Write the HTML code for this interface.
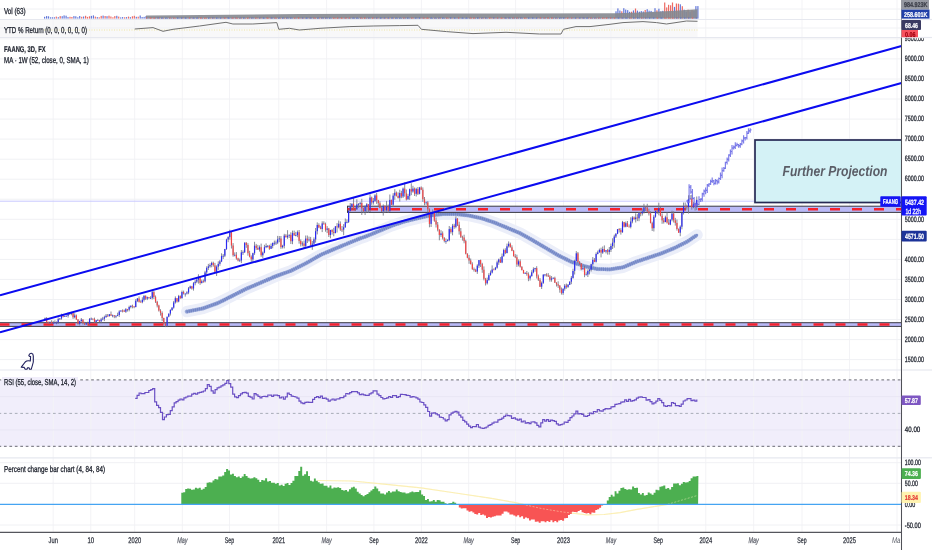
<!DOCTYPE html><html><head><meta charset="utf-8"><style>html,body{margin:0;padding:0;background:#fff;overflow:hidden}svg{display:block;will-change:transform;}text{text-rendering:geometricPrecision}</style></head><body><svg width="932" height="550" viewBox="0 0 932 550" font-family="Liberation Sans, sans-serif">
<rect width="932" height="550" fill="#fff"/>
<defs><clipPath id="cp"><rect x="0" y="0" width="901.5" height="532"/></clipPath><clipPath id="axm"><rect x="900" y="38.2" width="40" height="340"/></clipPath><clipPath id="main"><rect x="0" y="38" width="901.5" height="332"/></clipPath></defs>
<rect x="0" y="20" width="697.5" height="17" fill="#f8f8f9"/>
<rect x="0" y="380" width="901.5" height="66.5" fill="#f1eefb"/>
<line x1="53.2" y1="0" x2="53.2" y2="532" stroke="#f3f3f6" stroke-width="1"/>
<line x1="90.8" y1="0" x2="90.8" y2="532" stroke="#f3f3f6" stroke-width="1"/>
<line x1="134.7" y1="0" x2="134.7" y2="532" stroke="#f3f3f6" stroke-width="1"/>
<line x1="182.3" y1="0" x2="182.3" y2="532" stroke="#f3f3f6" stroke-width="1"/>
<line x1="229.5" y1="0" x2="229.5" y2="532" stroke="#f3f3f6" stroke-width="1"/>
<line x1="278.8" y1="0" x2="278.8" y2="532" stroke="#f3f3f6" stroke-width="1"/>
<line x1="326.6" y1="0" x2="326.6" y2="532" stroke="#f3f3f6" stroke-width="1"/>
<line x1="373.9" y1="0" x2="373.9" y2="532" stroke="#f3f3f6" stroke-width="1"/>
<line x1="421.4" y1="0" x2="421.4" y2="532" stroke="#f3f3f6" stroke-width="1"/>
<line x1="468.7" y1="0" x2="468.7" y2="532" stroke="#f3f3f6" stroke-width="1"/>
<line x1="515.6" y1="0" x2="515.6" y2="532" stroke="#f3f3f6" stroke-width="1"/>
<line x1="563.5" y1="0" x2="563.5" y2="532" stroke="#f3f3f6" stroke-width="1"/>
<line x1="611" y1="0" x2="611" y2="532" stroke="#f3f3f6" stroke-width="1"/>
<line x1="658.2" y1="0" x2="658.2" y2="532" stroke="#f3f3f6" stroke-width="1"/>
<line x1="705.8" y1="0" x2="705.8" y2="532" stroke="#f3f3f6" stroke-width="1"/>
<line x1="753.7" y1="0" x2="753.7" y2="532" stroke="#f3f3f6" stroke-width="1"/>
<line x1="802" y1="0" x2="802" y2="532" stroke="#f3f3f6" stroke-width="1"/>
<line x1="849.5" y1="0" x2="849.5" y2="532" stroke="#f3f3f6" stroke-width="1"/>
<line x1="897" y1="0" x2="897" y2="532" stroke="#f3f3f6" stroke-width="1"/>
<line x1="0" y1="359.6" x2="901.5" y2="359.6" stroke="#f0f1f4" stroke-width="1"/>
<line x1="0" y1="339.6" x2="901.5" y2="339.6" stroke="#f0f1f4" stroke-width="1"/>
<line x1="0" y1="319.6" x2="901.5" y2="319.6" stroke="#f0f1f4" stroke-width="1"/>
<line x1="0" y1="299.5" x2="901.5" y2="299.5" stroke="#f0f1f4" stroke-width="1"/>
<line x1="0" y1="279.4" x2="901.5" y2="279.4" stroke="#f0f1f4" stroke-width="1"/>
<line x1="0" y1="259.4" x2="901.5" y2="259.4" stroke="#f0f1f4" stroke-width="1"/>
<line x1="0" y1="239.4" x2="901.5" y2="239.4" stroke="#f0f1f4" stroke-width="1"/>
<line x1="0" y1="219.3" x2="901.5" y2="219.3" stroke="#f0f1f4" stroke-width="1"/>
<line x1="0" y1="199.2" x2="901.5" y2="199.2" stroke="#f0f1f4" stroke-width="1"/>
<line x1="0" y1="179.2" x2="901.5" y2="179.2" stroke="#f0f1f4" stroke-width="1"/>
<line x1="0" y1="159.2" x2="901.5" y2="159.2" stroke="#f0f1f4" stroke-width="1"/>
<line x1="0" y1="139.1" x2="901.5" y2="139.1" stroke="#f0f1f4" stroke-width="1"/>
<line x1="0" y1="119.1" x2="901.5" y2="119.1" stroke="#f0f1f4" stroke-width="1"/>
<line x1="0" y1="99.0" x2="901.5" y2="99.0" stroke="#f0f1f4" stroke-width="1"/>
<line x1="0" y1="79.0" x2="901.5" y2="79.0" stroke="#f0f1f4" stroke-width="1"/>
<line x1="0" y1="58.9" x2="901.5" y2="58.9" stroke="#f0f1f4" stroke-width="1"/>
<line x1="0" y1="38.9" x2="901.5" y2="38.9" stroke="#f0f1f4" stroke-width="1"/>
<line x1="0" y1="9" x2="901.5" y2="9" stroke="#f0f1f4"/>
<line x1="0" y1="28" x2="901.5" y2="28" stroke="#f0f1f4"/>
<line x1="0" y1="396.6" x2="901.5" y2="396.6" stroke="#e9e6f4"/>
<line x1="0" y1="429.9" x2="901.5" y2="429.9" stroke="#e9e6f4"/>
<line x1="0" y1="462.7" x2="901.5" y2="462.7" stroke="#f0f1f4"/>
<line x1="0" y1="483.3" x2="901.5" y2="483.3" stroke="#f0f1f4"/>
<line x1="0" y1="525" x2="901.5" y2="525" stroke="#f0f1f4"/>
<line x1="0" y1="19.5" x2="932" y2="19.5" stroke="#e6e8ef" stroke-width="1.2"/>
<line x1="0" y1="37.5" x2="932" y2="37.5" stroke="#e6e8ef" stroke-width="1.2"/>
<line x1="0" y1="370" x2="932" y2="370" stroke="#e6e8ef" stroke-width="1.2"/>
<line x1="0" y1="457.8" x2="932" y2="457.8" stroke="#e6e8ef" stroke-width="1.2"/>
<rect x="44.0" y="16.8" width="1.2" height="1.8" fill="#3a55d0" opacity="0.8"/><rect x="46.0" y="16.1" width="1.2" height="2.5" fill="#3a55d0" opacity="0.8"/><rect x="47.9" y="16.3" width="1.2" height="2.3" fill="#3a55d0" opacity="0.8"/><rect x="49.9" y="17.3" width="1.2" height="1.3" fill="#3a55d0" opacity="0.8"/><rect x="51.8" y="17.3" width="1.2" height="1.3" fill="#3a55d0" opacity="0.8"/><rect x="53.8" y="17.3" width="1.2" height="1.3" fill="#3a55d0" opacity="0.8"/><rect x="55.7" y="16.6" width="1.2" height="2.0" fill="#e8453c" opacity="0.8"/><rect x="57.7" y="17.2" width="1.2" height="1.4" fill="#3a55d0" opacity="0.8"/><rect x="59.6" y="16.1" width="1.2" height="2.5" fill="#e8453c" opacity="0.8"/><rect x="61.6" y="16.2" width="1.2" height="2.4" fill="#3a55d0" opacity="0.8"/><rect x="63.5" y="15.4" width="1.2" height="3.2" fill="#3a55d0" opacity="0.8"/><rect x="65.5" y="15.7" width="1.2" height="2.9" fill="#3a55d0" opacity="0.8"/><rect x="67.4" y="17.1" width="1.2" height="1.5" fill="#3a55d0" opacity="0.8"/><rect x="69.4" y="16.8" width="1.2" height="1.8" fill="#e8453c" opacity="0.8"/><rect x="71.3" y="17.0" width="1.2" height="1.6" fill="#e8453c" opacity="0.8"/><rect x="73.3" y="16.1" width="1.2" height="2.5" fill="#3a55d0" opacity="0.8"/><rect x="75.2" y="16.3" width="1.2" height="2.3" fill="#3a55d0" opacity="0.8"/><rect x="77.2" y="17.3" width="1.2" height="1.3" fill="#3a55d0" opacity="0.8"/><rect x="79.1" y="16.0" width="1.2" height="2.6" fill="#3a55d0" opacity="0.8"/><rect x="81.1" y="16.8" width="1.2" height="1.8" fill="#e8453c" opacity="0.8"/><rect x="83.0" y="16.5" width="1.2" height="2.1" fill="#3a55d0" opacity="0.8"/><rect x="85.0" y="15.8" width="1.2" height="2.8" fill="#e8453c" opacity="0.8"/><rect x="86.9" y="16.9" width="1.2" height="1.7" fill="#e8453c" opacity="0.8"/><rect x="88.9" y="16.3" width="1.2" height="2.3" fill="#e8453c" opacity="0.8"/><rect x="90.8" y="15.9" width="1.2" height="2.7" fill="#3a55d0" opacity="0.8"/><rect x="92.8" y="15.4" width="1.2" height="3.2" fill="#3a55d0" opacity="0.8"/><rect x="94.7" y="16.6" width="1.2" height="2.0" fill="#e8453c" opacity="0.8"/><rect x="96.7" y="17.1" width="1.2" height="1.5" fill="#3a55d0" opacity="0.8"/><rect x="98.6" y="17.3" width="1.2" height="1.3" fill="#e8453c" opacity="0.8"/><rect x="100.6" y="15.9" width="1.2" height="2.7" fill="#e8453c" opacity="0.8"/><rect x="102.5" y="15.6" width="1.2" height="3.0" fill="#3a55d0" opacity="0.8"/><rect x="104.5" y="16.0" width="1.2" height="2.6" fill="#e8453c" opacity="0.8"/><rect x="106.4" y="16.2" width="1.2" height="2.4" fill="#3a55d0" opacity="0.8"/><rect x="108.4" y="15.7" width="1.2" height="2.9" fill="#e8453c" opacity="0.8"/><rect x="110.3" y="16.5" width="1.2" height="2.1" fill="#e8453c" opacity="0.8"/><rect x="112.3" y="17.3" width="1.2" height="1.3" fill="#e8453c" opacity="0.8"/><rect x="114.2" y="16.1" width="1.2" height="2.5" fill="#e8453c" opacity="0.8"/><rect x="116.2" y="15.8" width="1.2" height="2.8" fill="#3a55d0" opacity="0.8"/><rect x="118.1" y="16.6" width="1.2" height="2.0" fill="#e8453c" opacity="0.8"/><rect x="120.1" y="17.4" width="1.2" height="1.2" fill="#3a55d0" opacity="0.8"/><rect x="122.0" y="17.1" width="1.2" height="1.5" fill="#3a55d0" opacity="0.8"/><rect x="124.0" y="17.3" width="1.2" height="1.3" fill="#e8453c" opacity="0.8"/><rect x="125.9" y="17.1" width="1.2" height="1.5" fill="#3a55d0" opacity="0.8"/><rect x="127.9" y="16.6" width="1.2" height="2.0" fill="#e8453c" opacity="0.8"/><rect x="129.8" y="17.2" width="1.2" height="1.4" fill="#3a55d0" opacity="0.8"/><rect x="131.8" y="16.3" width="1.2" height="2.3" fill="#e8453c" opacity="0.8"/><rect x="133.7" y="15.8" width="1.2" height="2.8" fill="#e8453c" opacity="0.8"/><rect x="135.7" y="16.8" width="1.2" height="1.8" fill="#3a55d0" opacity="0.8"/><rect x="137.6" y="16.7" width="1.2" height="1.9" fill="#e8453c" opacity="0.8"/><rect x="139.6" y="15.5" width="1.2" height="3.1" fill="#3a55d0" opacity="0.8"/><rect x="141.5" y="17.0" width="1.2" height="1.6" fill="#3a55d0" opacity="0.8"/><rect x="143.5" y="16.9" width="1.2" height="1.7" fill="#3a55d0" opacity="0.8"/><rect x="145.4" y="16.2" width="1.2" height="2.4" fill="#3a55d0" opacity="0.8"/><rect x="147.4" y="17.8" width="1.2" height="0.8" fill="#3a55d0" opacity="0.8"/><rect x="149.3" y="17.5" width="1.2" height="1.1" fill="#e8453c" opacity="0.8"/><rect x="151.2" y="17.0" width="1.2" height="1.6" fill="#e8453c" opacity="0.8"/><rect x="153.2" y="17.4" width="1.2" height="1.2" fill="#e8453c" opacity="0.8"/><rect x="155.1" y="17.3" width="1.2" height="1.3" fill="#3a55d0" opacity="0.8"/><rect x="157.1" y="17.1" width="1.2" height="1.5" fill="#e8453c" opacity="0.8"/><rect x="159.0" y="17.1" width="1.2" height="1.5" fill="#e8453c" opacity="0.8"/><rect x="161.0" y="17.5" width="1.2" height="1.1" fill="#3a55d0" opacity="0.8"/><rect x="162.9" y="17.7" width="1.2" height="0.9" fill="#e8453c" opacity="0.8"/><rect x="164.9" y="17.8" width="1.2" height="0.8" fill="#3a55d0" opacity="0.8"/><rect x="166.8" y="17.6" width="1.2" height="1.0" fill="#3a55d0" opacity="0.8"/><rect x="168.8" y="17.5" width="1.2" height="1.1" fill="#3a55d0" opacity="0.8"/><rect x="170.7" y="17.8" width="1.2" height="0.8" fill="#3a55d0" opacity="0.8"/><rect x="172.7" y="17.7" width="1.2" height="0.9" fill="#3a55d0" opacity="0.8"/><rect x="174.6" y="17.8" width="1.2" height="0.8" fill="#e8453c" opacity="0.8"/><rect x="176.6" y="17.3" width="1.2" height="1.3" fill="#3a55d0" opacity="0.8"/><rect x="178.5" y="17.6" width="1.2" height="1.0" fill="#3a55d0" opacity="0.8"/><rect x="180.5" y="17.5" width="1.2" height="1.1" fill="#3a55d0" opacity="0.8"/><rect x="182.4" y="17.1" width="1.2" height="1.5" fill="#e8453c" opacity="0.8"/><rect x="184.4" y="17.4" width="1.2" height="1.2" fill="#3a55d0" opacity="0.8"/><rect x="186.3" y="17.7" width="1.2" height="0.9" fill="#3a55d0" opacity="0.8"/><rect x="188.3" y="17.5" width="1.2" height="1.1" fill="#3a55d0" opacity="0.8"/><rect x="190.2" y="17.1" width="1.2" height="1.5" fill="#3a55d0" opacity="0.8"/><rect x="192.2" y="17.8" width="1.2" height="0.8" fill="#e8453c" opacity="0.8"/><rect x="194.1" y="17.4" width="1.2" height="1.2" fill="#3a55d0" opacity="0.8"/><rect x="196.1" y="17.4" width="1.2" height="1.2" fill="#3a55d0" opacity="0.8"/><rect x="198.0" y="17.4" width="1.2" height="1.2" fill="#e8453c" opacity="0.8"/><rect x="200.0" y="17.1" width="1.2" height="1.5" fill="#e8453c" opacity="0.8"/><rect x="201.9" y="17.6" width="1.2" height="1.0" fill="#3a55d0" opacity="0.8"/><rect x="203.9" y="17.7" width="1.2" height="0.9" fill="#e8453c" opacity="0.8"/><rect x="205.8" y="17.4" width="1.2" height="1.2" fill="#e8453c" opacity="0.8"/><rect x="207.8" y="17.5" width="1.2" height="1.1" fill="#3a55d0" opacity="0.8"/><rect x="209.7" y="17.2" width="1.2" height="1.4" fill="#e8453c" opacity="0.8"/><rect x="211.7" y="17.1" width="1.2" height="1.5" fill="#e8453c" opacity="0.8"/><rect x="213.6" y="17.1" width="1.2" height="1.5" fill="#e8453c" opacity="0.8"/><rect x="215.6" y="17.6" width="1.2" height="1.0" fill="#3a55d0" opacity="0.8"/><rect x="217.5" y="17.5" width="1.2" height="1.1" fill="#3a55d0" opacity="0.8"/><rect x="219.5" y="17.8" width="1.2" height="0.8" fill="#3a55d0" opacity="0.8"/><rect x="221.4" y="17.6" width="1.2" height="1.0" fill="#e8453c" opacity="0.8"/><rect x="223.4" y="17.0" width="1.2" height="1.6" fill="#3a55d0" opacity="0.8"/><rect x="225.3" y="17.1" width="1.2" height="1.5" fill="#e8453c" opacity="0.8"/><rect x="227.3" y="17.0" width="1.2" height="1.6" fill="#3a55d0" opacity="0.8"/><rect x="229.2" y="17.6" width="1.2" height="1.0" fill="#3a55d0" opacity="0.8"/><rect x="231.2" y="17.6" width="1.2" height="1.0" fill="#3a55d0" opacity="0.8"/><rect x="233.1" y="17.3" width="1.2" height="1.3" fill="#e8453c" opacity="0.8"/><rect x="235.1" y="17.1" width="1.2" height="1.5" fill="#3a55d0" opacity="0.8"/><rect x="237.0" y="17.3" width="1.2" height="1.3" fill="#e8453c" opacity="0.8"/><rect x="239.0" y="17.7" width="1.2" height="0.9" fill="#e8453c" opacity="0.8"/><rect x="240.9" y="17.1" width="1.2" height="1.5" fill="#e8453c" opacity="0.8"/><rect x="242.9" y="17.2" width="1.2" height="1.4" fill="#3a55d0" opacity="0.8"/><rect x="244.8" y="17.7" width="1.2" height="0.9" fill="#e8453c" opacity="0.8"/><rect x="246.8" y="17.5" width="1.2" height="1.1" fill="#e8453c" opacity="0.8"/><rect x="248.7" y="17.0" width="1.2" height="1.6" fill="#3a55d0" opacity="0.8"/><rect x="250.7" y="17.5" width="1.2" height="1.1" fill="#e8453c" opacity="0.8"/><rect x="252.6" y="17.2" width="1.2" height="1.4" fill="#3a55d0" opacity="0.8"/><rect x="254.6" y="17.7" width="1.2" height="0.9" fill="#3a55d0" opacity="0.8"/><rect x="256.5" y="17.1" width="1.2" height="1.5" fill="#e8453c" opacity="0.8"/><rect x="258.5" y="17.7" width="1.2" height="0.9" fill="#e8453c" opacity="0.8"/><rect x="260.4" y="17.0" width="1.2" height="1.6" fill="#e8453c" opacity="0.8"/><rect x="262.4" y="17.5" width="1.2" height="1.1" fill="#3a55d0" opacity="0.8"/><rect x="264.3" y="17.7" width="1.2" height="0.9" fill="#3a55d0" opacity="0.8"/><rect x="266.3" y="17.0" width="1.2" height="1.6" fill="#e8453c" opacity="0.8"/><rect x="268.2" y="17.4" width="1.2" height="1.2" fill="#e8453c" opacity="0.8"/><rect x="270.2" y="17.5" width="1.2" height="1.1" fill="#e8453c" opacity="0.8"/><rect x="272.1" y="17.1" width="1.2" height="1.5" fill="#3a55d0" opacity="0.8"/><rect x="274.1" y="17.6" width="1.2" height="1.0" fill="#3a55d0" opacity="0.8"/><rect x="276.0" y="17.6" width="1.2" height="1.0" fill="#e8453c" opacity="0.8"/><rect x="278.0" y="17.6" width="1.2" height="1.0" fill="#3a55d0" opacity="0.8"/><rect x="279.9" y="17.7" width="1.2" height="0.9" fill="#e8453c" opacity="0.8"/><rect x="281.9" y="17.5" width="1.2" height="1.1" fill="#3a55d0" opacity="0.8"/><rect x="283.8" y="17.3" width="1.2" height="1.3" fill="#e8453c" opacity="0.8"/><rect x="285.8" y="17.5" width="1.2" height="1.1" fill="#e8453c" opacity="0.8"/><rect x="287.7" y="17.4" width="1.2" height="1.2" fill="#3a55d0" opacity="0.8"/><rect x="289.7" y="17.4" width="1.2" height="1.2" fill="#3a55d0" opacity="0.8"/><rect x="291.6" y="17.4" width="1.2" height="1.2" fill="#3a55d0" opacity="0.8"/><rect x="293.6" y="17.8" width="1.2" height="0.8" fill="#e8453c" opacity="0.8"/><rect x="295.5" y="17.7" width="1.2" height="0.9" fill="#3a55d0" opacity="0.8"/><rect x="297.5" y="17.2" width="1.2" height="1.4" fill="#e8453c" opacity="0.8"/><rect x="299.4" y="17.5" width="1.2" height="1.1" fill="#3a55d0" opacity="0.8"/><rect x="301.4" y="17.4" width="1.2" height="1.2" fill="#e8453c" opacity="0.8"/><rect x="303.3" y="17.7" width="1.2" height="0.9" fill="#e8453c" opacity="0.8"/><rect x="305.3" y="17.6" width="1.2" height="1.0" fill="#3a55d0" opacity="0.8"/><rect x="307.2" y="17.2" width="1.2" height="1.4" fill="#3a55d0" opacity="0.8"/><rect x="309.2" y="17.4" width="1.2" height="1.2" fill="#e8453c" opacity="0.8"/><rect x="311.1" y="17.1" width="1.2" height="1.5" fill="#3a55d0" opacity="0.8"/><rect x="313.1" y="17.3" width="1.2" height="1.3" fill="#3a55d0" opacity="0.8"/><rect x="315.0" y="17.4" width="1.2" height="1.2" fill="#e8453c" opacity="0.8"/><rect x="317.0" y="17.4" width="1.2" height="1.2" fill="#3a55d0" opacity="0.8"/><rect x="318.9" y="17.4" width="1.2" height="1.2" fill="#e8453c" opacity="0.8"/><rect x="320.9" y="17.2" width="1.2" height="1.4" fill="#e8453c" opacity="0.8"/><rect x="322.8" y="17.0" width="1.2" height="1.6" fill="#3a55d0" opacity="0.8"/><rect x="324.8" y="17.4" width="1.2" height="1.2" fill="#e8453c" opacity="0.8"/><rect x="326.7" y="17.1" width="1.2" height="1.5" fill="#3a55d0" opacity="0.8"/><rect x="328.7" y="17.7" width="1.2" height="0.9" fill="#3a55d0" opacity="0.8"/><rect x="330.6" y="17.7" width="1.2" height="0.9" fill="#3a55d0" opacity="0.8"/><rect x="332.6" y="17.7" width="1.2" height="0.9" fill="#e8453c" opacity="0.8"/><rect x="334.5" y="17.2" width="1.2" height="1.4" fill="#e8453c" opacity="0.8"/><rect x="336.5" y="17.7" width="1.2" height="0.9" fill="#e8453c" opacity="0.8"/><rect x="338.4" y="17.3" width="1.2" height="1.3" fill="#3a55d0" opacity="0.8"/><rect x="340.4" y="17.1" width="1.2" height="1.5" fill="#e8453c" opacity="0.8"/><rect x="342.3" y="17.6" width="1.2" height="1.0" fill="#e8453c" opacity="0.8"/><rect x="344.3" y="17.5" width="1.2" height="1.1" fill="#3a55d0" opacity="0.8"/><rect x="346.2" y="17.0" width="1.2" height="1.6" fill="#e8453c" opacity="0.8"/><rect x="348.2" y="17.7" width="1.2" height="0.9" fill="#3a55d0" opacity="0.8"/><rect x="350.1" y="17.4" width="1.2" height="1.2" fill="#3a55d0" opacity="0.8"/><rect x="352.1" y="17.6" width="1.2" height="1.0" fill="#3a55d0" opacity="0.8"/><rect x="354.0" y="17.2" width="1.2" height="1.4" fill="#3a55d0" opacity="0.8"/><rect x="356.0" y="17.4" width="1.2" height="1.2" fill="#3a55d0" opacity="0.8"/><rect x="357.9" y="17.8" width="1.2" height="0.8" fill="#3a55d0" opacity="0.8"/><rect x="359.9" y="17.3" width="1.2" height="1.3" fill="#3a55d0" opacity="0.8"/><rect x="361.8" y="17.7" width="1.2" height="0.9" fill="#e8453c" opacity="0.8"/><rect x="363.8" y="17.2" width="1.2" height="1.4" fill="#e8453c" opacity="0.8"/><rect x="365.7" y="17.7" width="1.2" height="0.9" fill="#3a55d0" opacity="0.8"/><rect x="367.7" y="17.8" width="1.2" height="0.8" fill="#e8453c" opacity="0.8"/><rect x="369.6" y="17.6" width="1.2" height="1.0" fill="#3a55d0" opacity="0.8"/><rect x="371.6" y="17.5" width="1.2" height="1.1" fill="#e8453c" opacity="0.8"/><rect x="373.5" y="17.1" width="1.2" height="1.5" fill="#3a55d0" opacity="0.8"/><rect x="375.5" y="17.7" width="1.2" height="0.9" fill="#e8453c" opacity="0.8"/><rect x="377.4" y="17.3" width="1.2" height="1.3" fill="#e8453c" opacity="0.8"/><rect x="379.4" y="17.7" width="1.2" height="0.9" fill="#3a55d0" opacity="0.8"/><rect x="381.3" y="17.2" width="1.2" height="1.4" fill="#3a55d0" opacity="0.8"/><rect x="383.3" y="17.7" width="1.2" height="0.9" fill="#e8453c" opacity="0.8"/><rect x="385.2" y="17.3" width="1.2" height="1.3" fill="#e8453c" opacity="0.8"/><rect x="387.2" y="17.7" width="1.2" height="0.9" fill="#e8453c" opacity="0.8"/><rect x="389.1" y="17.7" width="1.2" height="0.9" fill="#e8453c" opacity="0.8"/><rect x="391.1" y="17.4" width="1.2" height="1.2" fill="#3a55d0" opacity="0.8"/><rect x="393.0" y="17.4" width="1.2" height="1.2" fill="#e8453c" opacity="0.8"/><rect x="395.0" y="17.6" width="1.2" height="1.0" fill="#3a55d0" opacity="0.8"/><rect x="396.9" y="17.4" width="1.2" height="1.2" fill="#3a55d0" opacity="0.8"/><rect x="398.9" y="17.7" width="1.2" height="0.9" fill="#3a55d0" opacity="0.8"/><rect x="400.8" y="17.8" width="1.2" height="0.8" fill="#3a55d0" opacity="0.8"/><rect x="402.8" y="17.6" width="1.2" height="1.0" fill="#3a55d0" opacity="0.8"/><rect x="404.7" y="17.2" width="1.2" height="1.4" fill="#3a55d0" opacity="0.8"/><rect x="406.7" y="17.4" width="1.2" height="1.2" fill="#3a55d0" opacity="0.8"/><rect x="408.6" y="17.5" width="1.2" height="1.1" fill="#3a55d0" opacity="0.8"/><rect x="410.6" y="17.6" width="1.2" height="1.0" fill="#3a55d0" opacity="0.8"/><rect x="412.5" y="17.2" width="1.2" height="1.4" fill="#e8453c" opacity="0.8"/><rect x="414.5" y="17.6" width="1.2" height="1.0" fill="#3a55d0" opacity="0.8"/><rect x="416.4" y="17.1" width="1.2" height="1.5" fill="#3a55d0" opacity="0.8"/><rect x="418.4" y="17.1" width="1.2" height="1.5" fill="#3a55d0" opacity="0.8"/><rect x="420.3" y="17.4" width="1.2" height="1.2" fill="#e8453c" opacity="0.8"/><rect x="422.3" y="17.5" width="1.2" height="1.1" fill="#3a55d0" opacity="0.8"/><rect x="424.2" y="17.2" width="1.2" height="1.4" fill="#e8453c" opacity="0.8"/><rect x="426.2" y="17.5" width="1.2" height="1.1" fill="#e8453c" opacity="0.8"/><rect x="428.1" y="17.2" width="1.2" height="1.4" fill="#e8453c" opacity="0.8"/><rect x="430.1" y="17.5" width="1.2" height="1.1" fill="#3a55d0" opacity="0.8"/><rect x="432.0" y="17.8" width="1.2" height="0.8" fill="#3a55d0" opacity="0.8"/><rect x="434.0" y="17.7" width="1.2" height="0.9" fill="#e8453c" opacity="0.8"/><rect x="435.9" y="17.6" width="1.2" height="1.0" fill="#3a55d0" opacity="0.8"/><rect x="437.9" y="17.7" width="1.2" height="0.9" fill="#e8453c" opacity="0.8"/><rect x="439.8" y="17.1" width="1.2" height="1.5" fill="#e8453c" opacity="0.8"/><rect x="441.8" y="17.6" width="1.2" height="1.0" fill="#3a55d0" opacity="0.8"/><rect x="443.7" y="17.6" width="1.2" height="1.0" fill="#3a55d0" opacity="0.8"/><rect x="445.7" y="17.7" width="1.2" height="0.9" fill="#3a55d0" opacity="0.8"/><rect x="447.6" y="17.6" width="1.2" height="1.0" fill="#e8453c" opacity="0.8"/><rect x="449.6" y="17.0" width="1.2" height="1.6" fill="#3a55d0" opacity="0.8"/><rect x="451.5" y="17.6" width="1.2" height="1.0" fill="#e8453c" opacity="0.8"/><rect x="453.5" y="17.6" width="1.2" height="1.0" fill="#3a55d0" opacity="0.8"/><rect x="455.4" y="17.8" width="1.2" height="0.8" fill="#3a55d0" opacity="0.8"/><rect x="457.4" y="17.4" width="1.2" height="1.2" fill="#3a55d0" opacity="0.8"/><rect x="459.3" y="17.6" width="1.2" height="1.0" fill="#3a55d0" opacity="0.8"/><rect x="461.3" y="17.8" width="1.2" height="0.8" fill="#3a55d0" opacity="0.8"/><rect x="463.2" y="17.7" width="1.2" height="0.9" fill="#3a55d0" opacity="0.8"/><rect x="465.2" y="17.8" width="1.2" height="0.8" fill="#3a55d0" opacity="0.8"/><rect x="467.1" y="17.6" width="1.2" height="1.0" fill="#3a55d0" opacity="0.8"/><rect x="469.1" y="17.3" width="1.2" height="1.3" fill="#3a55d0" opacity="0.8"/><rect x="471.0" y="17.2" width="1.2" height="1.4" fill="#e8453c" opacity="0.8"/><rect x="473.0" y="17.2" width="1.2" height="1.4" fill="#e8453c" opacity="0.8"/><rect x="474.9" y="17.5" width="1.2" height="1.1" fill="#3a55d0" opacity="0.8"/><rect x="476.9" y="17.0" width="1.2" height="1.6" fill="#3a55d0" opacity="0.8"/><rect x="478.8" y="17.2" width="1.2" height="1.4" fill="#e8453c" opacity="0.8"/><rect x="480.8" y="17.8" width="1.2" height="0.8" fill="#e8453c" opacity="0.8"/><rect x="482.7" y="17.1" width="1.2" height="1.5" fill="#e8453c" opacity="0.8"/><rect x="484.7" y="17.2" width="1.2" height="1.4" fill="#e8453c" opacity="0.8"/><rect x="486.6" y="17.7" width="1.2" height="0.9" fill="#3a55d0" opacity="0.8"/><rect x="488.6" y="17.4" width="1.2" height="1.2" fill="#e8453c" opacity="0.8"/><rect x="490.5" y="17.2" width="1.2" height="1.4" fill="#e8453c" opacity="0.8"/><rect x="492.5" y="17.3" width="1.2" height="1.3" fill="#e8453c" opacity="0.8"/><rect x="494.4" y="17.3" width="1.2" height="1.3" fill="#e8453c" opacity="0.8"/><rect x="496.4" y="17.6" width="1.2" height="1.0" fill="#3a55d0" opacity="0.8"/><rect x="498.3" y="17.7" width="1.2" height="0.9" fill="#3a55d0" opacity="0.8"/><rect x="500.3" y="17.7" width="1.2" height="0.9" fill="#e8453c" opacity="0.8"/><rect x="502.2" y="17.4" width="1.2" height="1.2" fill="#e8453c" opacity="0.8"/><rect x="504.2" y="17.3" width="1.2" height="1.3" fill="#e8453c" opacity="0.8"/><rect x="506.1" y="17.4" width="1.2" height="1.2" fill="#3a55d0" opacity="0.8"/><rect x="508.1" y="17.2" width="1.2" height="1.4" fill="#e8453c" opacity="0.8"/><rect x="510.0" y="17.4" width="1.2" height="1.2" fill="#3a55d0" opacity="0.8"/><rect x="512.0" y="17.3" width="1.2" height="1.3" fill="#3a55d0" opacity="0.8"/><rect x="513.9" y="17.2" width="1.2" height="1.4" fill="#3a55d0" opacity="0.8"/><rect x="515.9" y="17.7" width="1.2" height="0.9" fill="#3a55d0" opacity="0.8"/><rect x="517.8" y="17.2" width="1.2" height="1.4" fill="#3a55d0" opacity="0.8"/><rect x="519.8" y="17.2" width="1.2" height="1.4" fill="#e8453c" opacity="0.8"/><rect x="521.7" y="17.4" width="1.2" height="1.2" fill="#3a55d0" opacity="0.8"/><rect x="523.7" y="17.4" width="1.2" height="1.2" fill="#e8453c" opacity="0.8"/><rect x="525.6" y="17.2" width="1.2" height="1.4" fill="#e8453c" opacity="0.8"/><rect x="527.6" y="17.3" width="1.2" height="1.3" fill="#3a55d0" opacity="0.8"/><rect x="529.5" y="17.7" width="1.2" height="0.9" fill="#3a55d0" opacity="0.8"/><rect x="531.5" y="17.2" width="1.2" height="1.4" fill="#3a55d0" opacity="0.8"/><rect x="533.4" y="17.3" width="1.2" height="1.3" fill="#3a55d0" opacity="0.8"/><rect x="535.4" y="17.8" width="1.2" height="0.8" fill="#3a55d0" opacity="0.8"/><rect x="537.3" y="17.3" width="1.2" height="1.3" fill="#e8453c" opacity="0.8"/><rect x="539.3" y="17.3" width="1.2" height="1.3" fill="#3a55d0" opacity="0.8"/><rect x="541.2" y="17.4" width="1.2" height="1.2" fill="#3a55d0" opacity="0.8"/><rect x="543.2" y="17.4" width="1.2" height="1.2" fill="#3a55d0" opacity="0.8"/><rect x="545.1" y="17.1" width="1.2" height="1.5" fill="#3a55d0" opacity="0.8"/><rect x="547.1" y="17.0" width="1.2" height="1.6" fill="#e8453c" opacity="0.8"/><rect x="549.0" y="17.8" width="1.2" height="0.8" fill="#3a55d0" opacity="0.8"/><rect x="551.0" y="17.1" width="1.2" height="1.5" fill="#e8453c" opacity="0.8"/><rect x="552.9" y="17.4" width="1.2" height="1.2" fill="#3a55d0" opacity="0.8"/><rect x="554.9" y="17.6" width="1.2" height="1.0" fill="#e8453c" opacity="0.8"/><rect x="556.8" y="17.6" width="1.2" height="1.0" fill="#e8453c" opacity="0.8"/><rect x="558.8" y="17.7" width="1.2" height="0.9" fill="#3a55d0" opacity="0.8"/><rect x="560.7" y="17.0" width="1.2" height="1.6" fill="#3a55d0" opacity="0.8"/><rect x="562.7" y="17.1" width="1.2" height="1.5" fill="#3a55d0" opacity="0.8"/><rect x="564.6" y="17.1" width="1.2" height="1.5" fill="#e8453c" opacity="0.8"/><rect x="566.6" y="17.6" width="1.2" height="1.0" fill="#e8453c" opacity="0.8"/><rect x="568.5" y="17.4" width="1.2" height="1.2" fill="#3a55d0" opacity="0.8"/><rect x="570.5" y="17.8" width="1.2" height="0.8" fill="#3a55d0" opacity="0.8"/><rect x="572.4" y="17.4" width="1.2" height="1.2" fill="#3a55d0" opacity="0.8"/><rect x="574.4" y="17.7" width="1.2" height="0.9" fill="#3a55d0" opacity="0.8"/><rect x="576.3" y="17.5" width="1.2" height="1.1" fill="#e8453c" opacity="0.8"/><rect x="578.3" y="17.8" width="1.2" height="0.8" fill="#e8453c" opacity="0.8"/><rect x="580.2" y="17.1" width="1.2" height="1.5" fill="#3a55d0" opacity="0.8"/><rect x="582.2" y="17.1" width="1.2" height="1.5" fill="#e8453c" opacity="0.8"/><rect x="584.1" y="17.1" width="1.2" height="1.5" fill="#3a55d0" opacity="0.8"/><rect x="586.1" y="17.5" width="1.2" height="1.1" fill="#3a55d0" opacity="0.8"/><rect x="588.0" y="17.0" width="1.2" height="1.6" fill="#e8453c" opacity="0.8"/><rect x="590.0" y="17.5" width="1.2" height="1.1" fill="#3a55d0" opacity="0.8"/><rect x="591.9" y="17.6" width="1.2" height="1.0" fill="#3a55d0" opacity="0.8"/><rect x="593.9" y="17.7" width="1.2" height="0.9" fill="#e8453c" opacity="0.8"/><rect x="595.8" y="17.6" width="1.2" height="1.0" fill="#e8453c" opacity="0.8"/><rect x="597.8" y="17.6" width="1.2" height="1.0" fill="#3a55d0" opacity="0.8"/><rect x="599.7" y="17.4" width="1.2" height="1.2" fill="#3a55d0" opacity="0.8"/><rect x="601.7" y="17.5" width="1.2" height="1.1" fill="#e8453c" opacity="0.8"/><rect x="603.6" y="17.1" width="1.2" height="1.5" fill="#e8453c" opacity="0.8"/><rect x="605.6" y="17.3" width="1.2" height="1.3" fill="#e8453c" opacity="0.8"/><rect x="607.6" y="17.0" width="1.2" height="1.6" fill="#3a55d0" opacity="0.8"/><rect x="609.5" y="17.2" width="1.2" height="1.4" fill="#3a55d0" opacity="0.8"/><rect x="611.5" y="17.2" width="1.2" height="1.4" fill="#3a55d0" opacity="0.8"/><rect x="613.4" y="17.2" width="1.2" height="1.4" fill="#e8453c" opacity="0.8"/><rect x="615.4" y="11.3" width="1.2" height="7.3" fill="#3a55d0" opacity="0.8"/><rect x="617.3" y="8.4" width="1.2" height="10.2" fill="#3a55d0" opacity="0.8"/><rect x="619.3" y="10.5" width="1.2" height="8.1" fill="#3a55d0" opacity="0.8"/><rect x="621.2" y="11.3" width="1.2" height="7.3" fill="#e8453c" opacity="0.8"/><rect x="623.2" y="8.2" width="1.2" height="10.4" fill="#3a55d0" opacity="0.8"/><rect x="625.1" y="9.6" width="1.2" height="9.0" fill="#3a55d0" opacity="0.8"/><rect x="627.1" y="10.1" width="1.2" height="8.5" fill="#3a55d0" opacity="0.8"/><rect x="629.0" y="11.8" width="1.2" height="6.8" fill="#3a55d0" opacity="0.8"/><rect x="631.0" y="11.7" width="1.2" height="6.9" fill="#e8453c" opacity="0.8"/><rect x="632.9" y="10.4" width="1.2" height="8.2" fill="#3a55d0" opacity="0.8"/><rect x="634.9" y="8.5" width="1.2" height="10.1" fill="#e8453c" opacity="0.8"/><rect x="636.8" y="10.6" width="1.2" height="8.0" fill="#3a55d0" opacity="0.8"/><rect x="638.8" y="11.7" width="1.2" height="6.9" fill="#3a55d0" opacity="0.8"/><rect x="640.7" y="11.1" width="1.2" height="7.5" fill="#3a55d0" opacity="0.8"/><rect x="642.7" y="11.5" width="1.2" height="7.1" fill="#3a55d0" opacity="0.8"/><rect x="644.6" y="10.0" width="1.2" height="8.6" fill="#e8453c" opacity="0.8"/><rect x="646.6" y="9.2" width="1.2" height="9.4" fill="#3a55d0" opacity="0.8"/><rect x="648.5" y="10.7" width="1.2" height="7.9" fill="#3a55d0" opacity="0.8"/><rect x="650.5" y="10.9" width="1.2" height="7.7" fill="#3a55d0" opacity="0.8"/><rect x="652.4" y="12.3" width="1.2" height="6.3" fill="#3a55d0" opacity="0.8"/><rect x="654.4" y="8.2" width="1.2" height="10.4" fill="#3a55d0" opacity="0.8"/><rect x="656.3" y="10.3" width="1.2" height="8.3" fill="#e8453c" opacity="0.8"/><rect x="658.3" y="8.7" width="1.2" height="9.9" fill="#3a55d0" opacity="0.8"/><rect x="660.2" y="11.4" width="1.2" height="7.2" fill="#3a55d0" opacity="0.8"/><rect x="662.2" y="10.8" width="1.2" height="7.8" fill="#3a55d0" opacity="0.8"/><rect x="664.1" y="2.5" width="1.2" height="16.1" fill="#e8453c" opacity="0.8"/><rect x="666.1" y="7.4" width="1.2" height="11.2" fill="#e8453c" opacity="0.8"/><rect x="668.0" y="4.8" width="1.2" height="13.8" fill="#e8453c" opacity="0.8"/><rect x="670.0" y="5.3" width="1.2" height="13.3" fill="#e8453c" opacity="0.8"/><rect x="671.9" y="2.5" width="1.2" height="16.1" fill="#e8453c" opacity="0.8"/><rect x="673.9" y="6.9" width="1.2" height="11.7" fill="#3a55d0" opacity="0.8"/><rect x="675.8" y="3.5" width="1.2" height="15.1" fill="#e8453c" opacity="0.8"/><rect x="677.8" y="3.7" width="1.2" height="14.9" fill="#e8453c" opacity="0.8"/><rect x="679.7" y="4.3" width="1.2" height="14.3" fill="#3a55d0" opacity="0.8"/><rect x="681.7" y="6.2" width="1.2" height="12.4" fill="#e8453c" opacity="0.8"/><rect x="683.6" y="9.7" width="1.2" height="8.9" fill="#3a55d0" opacity="0.8"/><rect x="685.6" y="12.0" width="1.2" height="6.6" fill="#3a55d0" opacity="0.8"/><rect x="687.5" y="9.7" width="1.2" height="8.9" fill="#e8453c" opacity="0.8"/><rect x="689.5" y="12.1" width="1.2" height="6.5" fill="#3a55d0" opacity="0.8"/><rect x="691.4" y="10.2" width="1.2" height="8.4" fill="#e8453c" opacity="0.8"/><rect x="693.4" y="10.9" width="1.2" height="7.7" fill="#3a55d0" opacity="0.8"/><rect x="695.3" y="6.1" width="1.2" height="12.5" fill="#3a55d0" opacity="0.8"/><rect x="697.3" y="6.1" width="1.2" height="12.5" fill="#3a55d0" opacity="0.8"/>
<polygon points="146.0,18.6 146.0,15.6 230.0,14.7 300.0,14.0 450.0,13.5 615.0,13.3 640.0,12.5 670.0,11.0 697.5,9.3 697.5,18.6" fill="#85888f" opacity="0.9"/>
<rect x="146.0" y="17.5" width="1.2" height="1.1" fill="#ef5350" opacity="0.75"/><rect x="149.9" y="17.5" width="1.2" height="1.1" fill="#ef5350" opacity="0.75"/><rect x="153.8" y="17.5" width="1.2" height="1.1" fill="#ef5350" opacity="0.75"/><rect x="157.7" y="17.5" width="1.2" height="1.1" fill="#4a63d8" opacity="0.75"/><rect x="161.6" y="17.5" width="1.2" height="1.1" fill="#4a63d8" opacity="0.75"/><rect x="165.5" y="17.5" width="1.2" height="1.1" fill="#4a63d8" opacity="0.75"/><rect x="169.4" y="17.5" width="1.2" height="1.1" fill="#ef5350" opacity="0.75"/><rect x="173.3" y="17.5" width="1.2" height="1.1" fill="#ef5350" opacity="0.75"/><rect x="177.2" y="17.5" width="1.2" height="1.1" fill="#4a63d8" opacity="0.75"/><rect x="181.1" y="17.5" width="1.2" height="1.1" fill="#4a63d8" opacity="0.75"/><rect x="185.0" y="17.5" width="1.2" height="1.1" fill="#4a63d8" opacity="0.75"/><rect x="188.9" y="17.5" width="1.2" height="1.1" fill="#ef5350" opacity="0.75"/><rect x="192.8" y="17.5" width="1.2" height="1.1" fill="#4a63d8" opacity="0.75"/><rect x="196.7" y="17.5" width="1.2" height="1.1" fill="#4a63d8" opacity="0.75"/><rect x="200.6" y="17.5" width="1.2" height="1.1" fill="#ef5350" opacity="0.75"/><rect x="204.5" y="17.5" width="1.2" height="1.1" fill="#ef5350" opacity="0.75"/><rect x="208.4" y="17.5" width="1.2" height="1.1" fill="#4a63d8" opacity="0.75"/><rect x="212.3" y="17.5" width="1.2" height="1.1" fill="#4a63d8" opacity="0.75"/><rect x="216.2" y="17.5" width="1.2" height="1.1" fill="#4a63d8" opacity="0.75"/><rect x="220.1" y="17.5" width="1.2" height="1.1" fill="#4a63d8" opacity="0.75"/><rect x="224.0" y="17.5" width="1.2" height="1.1" fill="#ef5350" opacity="0.75"/><rect x="227.9" y="17.5" width="1.2" height="1.1" fill="#4a63d8" opacity="0.75"/><rect x="231.8" y="17.5" width="1.2" height="1.1" fill="#ef5350" opacity="0.75"/><rect x="235.7" y="17.5" width="1.2" height="1.1" fill="#ef5350" opacity="0.75"/><rect x="239.6" y="17.5" width="1.2" height="1.1" fill="#4a63d8" opacity="0.75"/><rect x="243.5" y="17.5" width="1.2" height="1.1" fill="#4a63d8" opacity="0.75"/><rect x="247.4" y="17.5" width="1.2" height="1.1" fill="#ef5350" opacity="0.75"/><rect x="251.3" y="17.5" width="1.2" height="1.1" fill="#4a63d8" opacity="0.75"/><rect x="255.2" y="17.5" width="1.2" height="1.1" fill="#ef5350" opacity="0.75"/><rect x="259.1" y="17.5" width="1.2" height="1.1" fill="#4a63d8" opacity="0.75"/><rect x="263.0" y="17.5" width="1.2" height="1.1" fill="#4a63d8" opacity="0.75"/><rect x="266.9" y="17.5" width="1.2" height="1.1" fill="#ef5350" opacity="0.75"/><rect x="270.8" y="17.5" width="1.2" height="1.1" fill="#4a63d8" opacity="0.75"/><rect x="274.7" y="17.5" width="1.2" height="1.1" fill="#ef5350" opacity="0.75"/><rect x="278.6" y="17.5" width="1.2" height="1.1" fill="#4a63d8" opacity="0.75"/><rect x="282.5" y="17.5" width="1.2" height="1.1" fill="#4a63d8" opacity="0.75"/><rect x="286.4" y="17.5" width="1.2" height="1.1" fill="#4a63d8" opacity="0.75"/><rect x="290.3" y="17.5" width="1.2" height="1.1" fill="#4a63d8" opacity="0.75"/><rect x="294.2" y="17.5" width="1.2" height="1.1" fill="#ef5350" opacity="0.75"/><rect x="298.1" y="17.5" width="1.2" height="1.1" fill="#ef5350" opacity="0.75"/><rect x="302.0" y="17.5" width="1.2" height="1.1" fill="#4a63d8" opacity="0.75"/><rect x="305.9" y="17.5" width="1.2" height="1.1" fill="#4a63d8" opacity="0.75"/><rect x="309.8" y="17.5" width="1.2" height="1.1" fill="#4a63d8" opacity="0.75"/><rect x="313.7" y="17.5" width="1.2" height="1.1" fill="#ef5350" opacity="0.75"/><rect x="317.6" y="17.5" width="1.2" height="1.1" fill="#4a63d8" opacity="0.75"/><rect x="321.5" y="17.5" width="1.2" height="1.1" fill="#4a63d8" opacity="0.75"/><rect x="325.4" y="17.5" width="1.2" height="1.1" fill="#4a63d8" opacity="0.75"/><rect x="329.3" y="17.5" width="1.2" height="1.1" fill="#4a63d8" opacity="0.75"/><rect x="333.2" y="17.5" width="1.2" height="1.1" fill="#ef5350" opacity="0.75"/><rect x="337.1" y="17.5" width="1.2" height="1.1" fill="#ef5350" opacity="0.75"/><rect x="341.0" y="17.5" width="1.2" height="1.1" fill="#ef5350" opacity="0.75"/><rect x="344.9" y="17.5" width="1.2" height="1.1" fill="#ef5350" opacity="0.75"/><rect x="348.8" y="17.5" width="1.2" height="1.1" fill="#ef5350" opacity="0.75"/><rect x="352.7" y="17.5" width="1.2" height="1.1" fill="#4a63d8" opacity="0.75"/><rect x="356.6" y="17.5" width="1.2" height="1.1" fill="#4a63d8" opacity="0.75"/><rect x="360.5" y="17.5" width="1.2" height="1.1" fill="#ef5350" opacity="0.75"/><rect x="364.4" y="17.5" width="1.2" height="1.1" fill="#ef5350" opacity="0.75"/><rect x="368.3" y="17.5" width="1.2" height="1.1" fill="#4a63d8" opacity="0.75"/><rect x="372.2" y="17.5" width="1.2" height="1.1" fill="#ef5350" opacity="0.75"/><rect x="376.1" y="17.5" width="1.2" height="1.1" fill="#4a63d8" opacity="0.75"/><rect x="380.0" y="17.5" width="1.2" height="1.1" fill="#4a63d8" opacity="0.75"/><rect x="383.9" y="17.5" width="1.2" height="1.1" fill="#4a63d8" opacity="0.75"/><rect x="387.8" y="17.5" width="1.2" height="1.1" fill="#4a63d8" opacity="0.75"/><rect x="391.7" y="17.5" width="1.2" height="1.1" fill="#4a63d8" opacity="0.75"/><rect x="395.6" y="17.5" width="1.2" height="1.1" fill="#4a63d8" opacity="0.75"/><rect x="399.5" y="17.5" width="1.2" height="1.1" fill="#4a63d8" opacity="0.75"/><rect x="403.4" y="17.5" width="1.2" height="1.1" fill="#ef5350" opacity="0.75"/><rect x="407.3" y="17.5" width="1.2" height="1.1" fill="#4a63d8" opacity="0.75"/><rect x="411.2" y="17.5" width="1.2" height="1.1" fill="#ef5350" opacity="0.75"/><rect x="415.1" y="17.5" width="1.2" height="1.1" fill="#4a63d8" opacity="0.75"/><rect x="419.0" y="17.5" width="1.2" height="1.1" fill="#4a63d8" opacity="0.75"/><rect x="422.9" y="17.5" width="1.2" height="1.1" fill="#ef5350" opacity="0.75"/><rect x="426.8" y="17.5" width="1.2" height="1.1" fill="#ef5350" opacity="0.75"/><rect x="430.7" y="17.5" width="1.2" height="1.1" fill="#4a63d8" opacity="0.75"/><rect x="434.6" y="17.5" width="1.2" height="1.1" fill="#4a63d8" opacity="0.75"/><rect x="438.5" y="17.5" width="1.2" height="1.1" fill="#4a63d8" opacity="0.75"/><rect x="442.4" y="17.5" width="1.2" height="1.1" fill="#4a63d8" opacity="0.75"/><rect x="446.3" y="17.5" width="1.2" height="1.1" fill="#ef5350" opacity="0.75"/><rect x="450.2" y="17.5" width="1.2" height="1.1" fill="#4a63d8" opacity="0.75"/><rect x="454.1" y="17.5" width="1.2" height="1.1" fill="#4a63d8" opacity="0.75"/><rect x="458.0" y="17.5" width="1.2" height="1.1" fill="#ef5350" opacity="0.75"/><rect x="461.9" y="17.5" width="1.2" height="1.1" fill="#4a63d8" opacity="0.75"/><rect x="465.8" y="17.5" width="1.2" height="1.1" fill="#4a63d8" opacity="0.75"/><rect x="469.7" y="17.5" width="1.2" height="1.1" fill="#ef5350" opacity="0.75"/><rect x="473.6" y="17.5" width="1.2" height="1.1" fill="#ef5350" opacity="0.75"/><rect x="477.5" y="17.5" width="1.2" height="1.1" fill="#4a63d8" opacity="0.75"/><rect x="481.4" y="17.5" width="1.2" height="1.1" fill="#4a63d8" opacity="0.75"/><rect x="485.3" y="17.5" width="1.2" height="1.1" fill="#4a63d8" opacity="0.75"/><rect x="489.2" y="17.5" width="1.2" height="1.1" fill="#ef5350" opacity="0.75"/><rect x="493.1" y="17.5" width="1.2" height="1.1" fill="#4a63d8" opacity="0.75"/><rect x="497.0" y="17.5" width="1.2" height="1.1" fill="#ef5350" opacity="0.75"/><rect x="500.9" y="17.5" width="1.2" height="1.1" fill="#ef5350" opacity="0.75"/><rect x="504.8" y="17.5" width="1.2" height="1.1" fill="#4a63d8" opacity="0.75"/><rect x="508.7" y="17.5" width="1.2" height="1.1" fill="#4a63d8" opacity="0.75"/><rect x="512.6" y="17.5" width="1.2" height="1.1" fill="#ef5350" opacity="0.75"/><rect x="516.5" y="17.5" width="1.2" height="1.1" fill="#ef5350" opacity="0.75"/><rect x="520.4" y="17.5" width="1.2" height="1.1" fill="#4a63d8" opacity="0.75"/><rect x="524.3" y="17.5" width="1.2" height="1.1" fill="#ef5350" opacity="0.75"/><rect x="528.2" y="17.5" width="1.2" height="1.1" fill="#4a63d8" opacity="0.75"/><rect x="532.1" y="17.5" width="1.2" height="1.1" fill="#4a63d8" opacity="0.75"/><rect x="536.0" y="17.5" width="1.2" height="1.1" fill="#4a63d8" opacity="0.75"/><rect x="539.9" y="17.5" width="1.2" height="1.1" fill="#ef5350" opacity="0.75"/><rect x="543.8" y="17.5" width="1.2" height="1.1" fill="#ef5350" opacity="0.75"/><rect x="547.7" y="17.5" width="1.2" height="1.1" fill="#ef5350" opacity="0.75"/><rect x="551.6" y="17.5" width="1.2" height="1.1" fill="#ef5350" opacity="0.75"/><rect x="555.5" y="17.5" width="1.2" height="1.1" fill="#4a63d8" opacity="0.75"/><rect x="559.4" y="17.5" width="1.2" height="1.1" fill="#4a63d8" opacity="0.75"/><rect x="563.3" y="17.5" width="1.2" height="1.1" fill="#4a63d8" opacity="0.75"/><rect x="567.2" y="17.5" width="1.2" height="1.1" fill="#ef5350" opacity="0.75"/><rect x="571.1" y="17.5" width="1.2" height="1.1" fill="#ef5350" opacity="0.75"/><rect x="575.0" y="17.5" width="1.2" height="1.1" fill="#4a63d8" opacity="0.75"/><rect x="578.9" y="17.5" width="1.2" height="1.1" fill="#4a63d8" opacity="0.75"/><rect x="582.8" y="17.5" width="1.2" height="1.1" fill="#4a63d8" opacity="0.75"/><rect x="586.7" y="17.5" width="1.2" height="1.1" fill="#4a63d8" opacity="0.75"/><rect x="590.6" y="17.5" width="1.2" height="1.1" fill="#ef5350" opacity="0.75"/><rect x="594.5" y="17.5" width="1.2" height="1.1" fill="#4a63d8" opacity="0.75"/><rect x="598.4" y="17.5" width="1.2" height="1.1" fill="#ef5350" opacity="0.75"/><rect x="602.3" y="17.5" width="1.2" height="1.1" fill="#ef5350" opacity="0.75"/><rect x="606.2" y="17.5" width="1.2" height="1.1" fill="#ef5350" opacity="0.75"/><rect x="610.1" y="17.5" width="1.2" height="1.1" fill="#ef5350" opacity="0.75"/><rect x="614.0" y="17.5" width="1.2" height="1.1" fill="#ef5350" opacity="0.75"/><rect x="617.9" y="17.5" width="1.2" height="1.1" fill="#4a63d8" opacity="0.75"/><rect x="621.8" y="17.5" width="1.2" height="1.1" fill="#4a63d8" opacity="0.75"/><rect x="625.7" y="17.5" width="1.2" height="1.1" fill="#4a63d8" opacity="0.75"/><rect x="629.6" y="17.5" width="1.2" height="1.1" fill="#ef5350" opacity="0.75"/><rect x="633.5" y="17.5" width="1.2" height="1.1" fill="#4a63d8" opacity="0.75"/><rect x="637.4" y="17.5" width="1.2" height="1.1" fill="#4a63d8" opacity="0.75"/><rect x="641.3" y="17.5" width="1.2" height="1.1" fill="#ef5350" opacity="0.75"/><rect x="645.2" y="17.5" width="1.2" height="1.1" fill="#4a63d8" opacity="0.75"/><rect x="649.1" y="17.5" width="1.2" height="1.1" fill="#4a63d8" opacity="0.75"/><rect x="653.0" y="17.5" width="1.2" height="1.1" fill="#4a63d8" opacity="0.75"/><rect x="656.9" y="17.5" width="1.2" height="1.1" fill="#ef5350" opacity="0.75"/><rect x="660.8" y="17.5" width="1.2" height="1.1" fill="#4a63d8" opacity="0.75"/><rect x="664.7" y="17.5" width="1.2" height="1.1" fill="#ef5350" opacity="0.75"/><rect x="668.6" y="17.5" width="1.2" height="1.1" fill="#ef5350" opacity="0.75"/><rect x="672.5" y="17.5" width="1.2" height="1.1" fill="#ef5350" opacity="0.75"/><rect x="676.4" y="17.5" width="1.2" height="1.1" fill="#4a63d8" opacity="0.75"/><rect x="680.3" y="17.5" width="1.2" height="1.1" fill="#4a63d8" opacity="0.75"/><rect x="684.2" y="17.5" width="1.2" height="1.1" fill="#4a63d8" opacity="0.75"/><rect x="688.1" y="17.5" width="1.2" height="1.1" fill="#4a63d8" opacity="0.75"/><rect x="692.0" y="17.5" width="1.2" height="1.1" fill="#ef5350" opacity="0.75"/><rect x="695.9" y="17.5" width="1.2" height="1.1" fill="#4a63d8" opacity="0.75"/>
<line x1="44" y1="30" x2="697.5" y2="30" stroke="#f0e6a0" stroke-width="1" stroke-dasharray="1 1.5"/>
<polyline points="134.7,29.0 153.0,27.6 163.0,31.3 173.0,29.3 199.6,26.0 226.0,22.3 232.9,24.0 252.8,24.0 276.8,22.6 278.8,29.3 289.4,28.3 299.4,30.0 320.0,28.3 349.9,26.6 373.2,26.0 399.8,25.6 418.0,25.3 421.4,29.3 446.4,31.6 473.0,33.6 506.0,32.3 539.5,34.0 561.0,34.0 563.5,29.3 576.0,26.6 590.0,26.6 610.0,24.3 623.0,22.6 643.0,21.6 656.5,22.6 666.5,24.0 686.5,21.0 697.5,21.3" fill="none" stroke="#707070" stroke-width="1"/>
<g clip-path="url(#main)">
<line x1="0" y1="201.2" x2="901.5" y2="201.2" stroke="#c9c9ff" stroke-width="1"/>
<rect x="755" y="140" width="148.5" height="62.5" fill="#d4f2f6" stroke="#262a55" stroke-width="1.7"/>
<polyline points="186.8,311.6 203.0,308.4 218.0,303.0 230.8,296.6 245.8,289.0 260.9,282.6 275.9,276.2 290.9,270.8 305.9,263.3 321.0,254.7 336.0,248.3 348.8,243.0 359.6,238.6 365.8,236.5 378.6,231.2 391.5,225.8 404.4,221.5 417.3,218.3 430.0,215.5 443.0,214.0 455.9,214.0 468.8,215.5 481.6,218.3 494.5,222.6 507.4,227.9 520.3,233.3 532.9,240.4 545.8,248.0 558.6,255.5 571.5,261.9 584.4,266.2 597.3,269.0 610.0,269.4 623.0,267.3 635.9,261.9 648.8,257.6 661.6,253.3 674.5,248.0 687.4,241.5 697.0,235.0" fill="none" stroke="#ebeef9" stroke-width="11.5" stroke-linecap="round" stroke-linejoin="round"/>
<polyline points="186.8,311.6 203.0,308.4 218.0,303.0 230.8,296.6 245.8,289.0 260.9,282.6 275.9,276.2 290.9,270.8 305.9,263.3 321.0,254.7 336.0,248.3 348.8,243.0 359.6,238.6 365.8,236.5 378.6,231.2 391.5,225.8 404.4,221.5 417.3,218.3 430.0,215.5 443.0,214.0 455.9,214.0 468.8,215.5 481.6,218.3 494.5,222.6 507.4,227.9 520.3,233.3 532.9,240.4 545.8,248.0 558.6,255.5 571.5,261.9 584.4,266.2 597.3,269.0 610.0,269.4 623.0,267.3 635.9,261.9 648.8,257.6 661.6,253.3 674.5,248.0 687.4,241.5 697.0,235.0" fill="none" stroke="#a3b1de" stroke-width="4.2" stroke-linecap="round" stroke-linejoin="round" stroke-dasharray="0.01 2.1"/>
<polyline points="186.8,311.6 203.0,308.4 218.0,303.0 230.8,296.6 245.8,289.0 260.9,282.6 275.9,276.2 290.9,270.8 305.9,263.3 321.0,254.7 336.0,248.3 348.8,243.0 359.6,238.6 365.8,236.5 378.6,231.2 391.5,225.8 404.4,221.5 417.3,218.3 430.0,215.5 443.0,214.0 455.9,214.0 468.8,215.5 481.6,218.3 494.5,222.6 507.4,227.9 520.3,233.3 532.9,240.4 545.8,248.0 558.6,255.5 571.5,261.9 584.4,266.2 597.3,269.0 610.0,269.4 623.0,267.3 635.9,261.9 648.8,257.6 661.6,253.3 674.5,248.0 687.4,241.5 697.0,235.0" fill="none" stroke="#8496cf" stroke-width="2.4" stroke-linecap="round" stroke-linejoin="round"/>
<polyline points="186.8,311.6 203.0,308.4 218.0,303.0 230.8,296.6 245.8,289.0 260.9,282.6 275.9,276.2 290.9,270.8 305.9,263.3 321.0,254.7 336.0,248.3 348.8,243.0 359.6,238.6 365.8,236.5 378.6,231.2 391.5,225.8 404.4,221.5 417.3,218.3 430.0,215.5 443.0,214.0 455.9,214.0 468.8,215.5 481.6,218.3 494.5,222.6 507.4,227.9 520.3,233.3 532.9,240.4 545.8,248.0 558.6,255.5 571.5,261.9 584.4,266.2 597.3,269.0 610.0,269.4 623.0,267.3 635.9,261.9 648.8,257.6 661.6,253.3 674.5,248.0 687.4,241.5 697.0,235.0" fill="none" stroke="#6a7ebf" stroke-width="3.4" stroke-linecap="butt" stroke-linejoin="round" stroke-dasharray="0.9 1.2" opacity="0.75"/>
<rect x="-3" y="322.7" width="907.5" height="3.6999999999999886" fill="#b9b9f6" stroke="#3a3a44" stroke-width="1"/>
<line x1="-3" y1="324.54999999999995" x2="901.5" y2="324.54999999999995" stroke="#f5222d" stroke-width="2.6" stroke-dasharray="10 12" stroke-dashoffset="-2.5"/>
<rect x="347.5" y="206.2" width="557.0" height="6.200000000000017" fill="#b9b9f6" stroke="#3a3a44" stroke-width="1"/>
<line x1="347.5" y1="209.3" x2="901.5" y2="209.3" stroke="#f5222d" stroke-width="2.6" stroke-dasharray="10 12" stroke-dashoffset="1.5"/>
<line x1="45.00" y1="317.5" x2="45.00" y2="320.8" stroke="#737585" stroke-width="0.85"/><rect x="44.40" y="318.3" width="1.2" height="1.4" fill="#2a2af2"/><line x1="46.65" y1="317.1" x2="46.65" y2="322.5" stroke="#737585" stroke-width="0.85"/><rect x="46.05" y="318.3" width="1.2" height="3.9" fill="#f24444"/><line x1="48.30" y1="321.5" x2="48.30" y2="324.0" stroke="#737585" stroke-width="0.85"/><rect x="47.70" y="322.2" width="1.2" height="0.8" fill="#f24444"/><line x1="49.95" y1="321.5" x2="49.95" y2="324.2" stroke="#737585" stroke-width="0.85"/><rect x="49.35" y="321.9" width="1.2" height="0.8" fill="#2a2af2"/><line x1="51.60" y1="320.2" x2="51.60" y2="324.0" stroke="#737585" stroke-width="0.85"/><rect x="51.00" y="321.9" width="1.2" height="1.2" fill="#f24444"/><line x1="53.25" y1="321.1" x2="53.25" y2="323.3" stroke="#737585" stroke-width="0.85"/><rect x="52.65" y="322.8" width="1.2" height="0.8" fill="#2a2af2"/><line x1="54.90" y1="320.3" x2="54.90" y2="323.0" stroke="#737585" stroke-width="0.85"/><rect x="54.30" y="322.6" width="1.2" height="0.8" fill="#2a2af2"/><line x1="56.55" y1="321.4" x2="56.55" y2="324.3" stroke="#737585" stroke-width="0.85"/><rect x="55.95" y="322.5" width="1.2" height="0.8" fill="#2a2af2"/><line x1="58.20" y1="317.5" x2="58.20" y2="323.9" stroke="#737585" stroke-width="0.85"/><rect x="57.60" y="319.1" width="1.2" height="3.3" fill="#2a2af2"/><line x1="59.85" y1="318.0" x2="59.85" y2="319.9" stroke="#737585" stroke-width="0.85"/><rect x="59.25" y="318.5" width="1.2" height="0.8" fill="#2a2af2"/><line x1="61.50" y1="313.7" x2="61.50" y2="319.7" stroke="#737585" stroke-width="0.85"/><rect x="60.90" y="315.7" width="1.2" height="2.8" fill="#2a2af2"/><line x1="63.15" y1="315.2" x2="63.15" y2="317.4" stroke="#737585" stroke-width="0.85"/><rect x="62.55" y="315.7" width="1.2" height="1.1" fill="#f24444"/><line x1="64.80" y1="315.7" x2="64.80" y2="317.0" stroke="#737585" stroke-width="0.85"/><rect x="64.20" y="315.9" width="1.2" height="0.8" fill="#2a2af2"/><line x1="66.45" y1="315.5" x2="66.45" y2="316.3" stroke="#737585" stroke-width="0.85"/><rect x="65.85" y="315.8" width="1.2" height="0.8" fill="#2a2af2"/><line x1="68.10" y1="312.6" x2="68.10" y2="317.6" stroke="#737585" stroke-width="0.85"/><rect x="67.50" y="313.3" width="1.2" height="2.5" fill="#2a2af2"/><line x1="69.75" y1="312.4" x2="69.75" y2="315.0" stroke="#737585" stroke-width="0.85"/><rect x="69.15" y="313.3" width="1.2" height="0.8" fill="#f24444"/><line x1="71.40" y1="311.9" x2="71.40" y2="315.3" stroke="#737585" stroke-width="0.85"/><rect x="70.80" y="313.2" width="1.2" height="0.8" fill="#2a2af2"/><line x1="73.05" y1="312.4" x2="73.05" y2="318.9" stroke="#737585" stroke-width="0.85"/><rect x="72.45" y="313.2" width="1.2" height="4.0" fill="#f24444"/><line x1="74.70" y1="313.3" x2="74.70" y2="318.4" stroke="#737585" stroke-width="0.85"/><rect x="74.10" y="315.5" width="1.2" height="1.7" fill="#2a2af2"/><line x1="76.35" y1="314.5" x2="76.35" y2="319.8" stroke="#737585" stroke-width="0.85"/><rect x="75.75" y="315.5" width="1.2" height="4.0" fill="#f24444"/><line x1="78.00" y1="319.2" x2="78.00" y2="324.8" stroke="#737585" stroke-width="0.85"/><rect x="77.40" y="319.4" width="1.2" height="4.4" fill="#f24444"/><line x1="79.65" y1="320.8" x2="79.65" y2="325.5" stroke="#737585" stroke-width="0.85"/><rect x="79.05" y="321.1" width="1.2" height="2.8" fill="#2a2af2"/><line x1="81.30" y1="318.0" x2="81.30" y2="321.8" stroke="#737585" stroke-width="0.85"/><rect x="80.70" y="319.6" width="1.2" height="1.5" fill="#2a2af2"/><line x1="82.95" y1="319.2" x2="82.95" y2="324.6" stroke="#737585" stroke-width="0.85"/><rect x="82.35" y="319.6" width="1.2" height="3.6" fill="#f24444"/><line x1="84.60" y1="321.8" x2="84.60" y2="324.9" stroke="#737585" stroke-width="0.85"/><rect x="84.00" y="323.2" width="1.2" height="1.3" fill="#f24444"/><line x1="86.25" y1="322.3" x2="86.25" y2="324.8" stroke="#737585" stroke-width="0.85"/><rect x="85.65" y="323.1" width="1.2" height="1.4" fill="#2a2af2"/><line x1="87.90" y1="321.6" x2="87.90" y2="324.7" stroke="#737585" stroke-width="0.85"/><rect x="87.30" y="323.1" width="1.2" height="0.8" fill="#f24444"/><line x1="89.55" y1="318.0" x2="89.55" y2="324.7" stroke="#737585" stroke-width="0.85"/><rect x="88.95" y="319.1" width="1.2" height="4.6" fill="#2a2af2"/><line x1="91.20" y1="317.5" x2="91.20" y2="319.9" stroke="#737585" stroke-width="0.85"/><rect x="90.60" y="318.6" width="1.2" height="0.8" fill="#2a2af2"/><line x1="92.85" y1="318.5" x2="92.85" y2="320.2" stroke="#737585" stroke-width="0.85"/><rect x="92.25" y="318.6" width="1.2" height="0.8" fill="#f24444"/><line x1="94.50" y1="317.6" x2="94.50" y2="322.9" stroke="#737585" stroke-width="0.85"/><rect x="93.90" y="319.0" width="1.2" height="3.0" fill="#f24444"/><line x1="96.15" y1="320.0" x2="96.15" y2="323.7" stroke="#737585" stroke-width="0.85"/><rect x="95.55" y="320.3" width="1.2" height="1.7" fill="#2a2af2"/><line x1="97.80" y1="318.9" x2="97.80" y2="320.5" stroke="#737585" stroke-width="0.85"/><rect x="97.20" y="320.0" width="1.2" height="0.8" fill="#2a2af2"/><line x1="99.45" y1="319.8" x2="99.45" y2="322.4" stroke="#737585" stroke-width="0.85"/><rect x="98.85" y="320.0" width="1.2" height="1.4" fill="#f24444"/><line x1="101.10" y1="317.9" x2="101.10" y2="323.2" stroke="#737585" stroke-width="0.85"/><rect x="100.50" y="319.4" width="1.2" height="2.0" fill="#2a2af2"/><line x1="102.75" y1="316.9" x2="102.75" y2="320.3" stroke="#737585" stroke-width="0.85"/><rect x="102.15" y="318.6" width="1.2" height="0.8" fill="#2a2af2"/><line x1="104.40" y1="315.7" x2="104.40" y2="321.1" stroke="#737585" stroke-width="0.85"/><rect x="103.80" y="317.2" width="1.2" height="1.5" fill="#2a2af2"/><line x1="106.05" y1="314.0" x2="106.05" y2="317.7" stroke="#737585" stroke-width="0.85"/><rect x="105.45" y="315.7" width="1.2" height="1.5" fill="#2a2af2"/><line x1="107.70" y1="314.0" x2="107.70" y2="316.6" stroke="#737585" stroke-width="0.85"/><rect x="107.10" y="315.7" width="1.2" height="0.8" fill="#f24444"/><line x1="109.35" y1="314.1" x2="109.35" y2="316.6" stroke="#737585" stroke-width="0.85"/><rect x="108.75" y="314.3" width="1.2" height="1.8" fill="#2a2af2"/><line x1="111.00" y1="311.5" x2="111.00" y2="316.0" stroke="#737585" stroke-width="0.85"/><rect x="110.40" y="314.3" width="1.2" height="1.3" fill="#f24444"/><line x1="112.65" y1="314.6" x2="112.65" y2="317.3" stroke="#737585" stroke-width="0.85"/><rect x="112.05" y="315.4" width="1.2" height="0.8" fill="#2a2af2"/><line x1="114.30" y1="315.1" x2="114.30" y2="318.2" stroke="#737585" stroke-width="0.85"/><rect x="113.70" y="315.4" width="1.2" height="1.0" fill="#f24444"/><line x1="115.95" y1="315.2" x2="115.95" y2="318.2" stroke="#737585" stroke-width="0.85"/><rect x="115.35" y="315.8" width="1.2" height="0.8" fill="#2a2af2"/><line x1="117.60" y1="312.7" x2="117.60" y2="316.2" stroke="#737585" stroke-width="0.85"/><rect x="117.00" y="315.0" width="1.2" height="0.8" fill="#2a2af2"/><line x1="119.25" y1="310.2" x2="119.25" y2="316.9" stroke="#737585" stroke-width="0.85"/><rect x="118.65" y="311.5" width="1.2" height="3.5" fill="#2a2af2"/><line x1="120.90" y1="310.4" x2="120.90" y2="311.7" stroke="#737585" stroke-width="0.85"/><rect x="120.30" y="310.5" width="1.2" height="1.0" fill="#2a2af2"/><line x1="122.55" y1="309.4" x2="122.55" y2="312.4" stroke="#737585" stroke-width="0.85"/><rect x="121.95" y="310.5" width="1.2" height="0.8" fill="#f24444"/><line x1="124.20" y1="309.6" x2="124.20" y2="311.8" stroke="#737585" stroke-width="0.85"/><rect x="123.60" y="310.6" width="1.2" height="1.1" fill="#f24444"/><line x1="125.85" y1="308.1" x2="125.85" y2="312.9" stroke="#737585" stroke-width="0.85"/><rect x="125.25" y="309.2" width="1.2" height="2.5" fill="#2a2af2"/><line x1="127.50" y1="308.9" x2="127.50" y2="311.5" stroke="#737585" stroke-width="0.85"/><rect x="126.90" y="309.2" width="1.2" height="0.8" fill="#f24444"/><line x1="129.15" y1="305.7" x2="129.15" y2="311.4" stroke="#737585" stroke-width="0.85"/><rect x="128.55" y="307.0" width="1.2" height="2.7" fill="#2a2af2"/><line x1="130.80" y1="305.5" x2="130.80" y2="308.3" stroke="#737585" stroke-width="0.85"/><rect x="130.20" y="305.7" width="1.2" height="1.3" fill="#2a2af2"/><line x1="132.45" y1="304.7" x2="132.45" y2="308.3" stroke="#737585" stroke-width="0.85"/><rect x="131.85" y="305.7" width="1.2" height="0.8" fill="#f24444"/><line x1="134.10" y1="306.2" x2="134.10" y2="308.2" stroke="#737585" stroke-width="0.85"/><rect x="133.50" y="306.4" width="1.2" height="0.8" fill="#f24444"/><line x1="135.75" y1="299.1" x2="135.75" y2="307.2" stroke="#737585" stroke-width="0.85"/><rect x="135.15" y="300.8" width="1.2" height="6.3" fill="#2a2af2"/><line x1="137.40" y1="298.0" x2="137.40" y2="302.1" stroke="#737585" stroke-width="0.85"/><rect x="136.80" y="298.5" width="1.2" height="2.3" fill="#2a2af2"/><line x1="139.05" y1="296.4" x2="139.05" y2="302.6" stroke="#737585" stroke-width="0.85"/><rect x="138.45" y="298.5" width="1.2" height="3.4" fill="#f24444"/><line x1="140.70" y1="300.3" x2="140.70" y2="302.3" stroke="#737585" stroke-width="0.85"/><rect x="140.10" y="301.8" width="1.2" height="0.8" fill="#f24444"/><line x1="142.35" y1="297.3" x2="142.35" y2="303.3" stroke="#737585" stroke-width="0.85"/><rect x="141.75" y="299.8" width="1.2" height="2.4" fill="#2a2af2"/><line x1="144.00" y1="295.1" x2="144.00" y2="301.5" stroke="#737585" stroke-width="0.85"/><rect x="143.40" y="295.9" width="1.2" height="3.9" fill="#2a2af2"/><line x1="145.65" y1="295.3" x2="145.65" y2="299.9" stroke="#737585" stroke-width="0.85"/><rect x="145.05" y="295.9" width="1.2" height="2.7" fill="#f24444"/><line x1="147.30" y1="296.6" x2="147.30" y2="300.1" stroke="#737585" stroke-width="0.85"/><rect x="146.70" y="297.2" width="1.2" height="1.4" fill="#2a2af2"/><line x1="148.95" y1="297.1" x2="148.95" y2="298.8" stroke="#737585" stroke-width="0.85"/><rect x="148.35" y="297.2" width="1.2" height="0.9" fill="#f24444"/><line x1="150.60" y1="296.2" x2="150.60" y2="299.0" stroke="#737585" stroke-width="0.85"/><rect x="150.00" y="297.9" width="1.2" height="0.8" fill="#2a2af2"/><line x1="152.25" y1="290.0" x2="152.25" y2="299.4" stroke="#737585" stroke-width="0.85"/><rect x="151.65" y="292.1" width="1.2" height="5.8" fill="#2a2af2"/><line x1="153.90" y1="291.0" x2="153.90" y2="299.0" stroke="#737585" stroke-width="0.85"/><rect x="153.30" y="292.1" width="1.2" height="4.9" fill="#f24444"/><line x1="155.55" y1="295.5" x2="155.55" y2="303.0" stroke="#737585" stroke-width="0.85"/><rect x="154.95" y="297.0" width="1.2" height="4.7" fill="#f24444"/><line x1="157.20" y1="300.8" x2="157.20" y2="307.4" stroke="#737585" stroke-width="0.85"/><rect x="156.60" y="301.8" width="1.2" height="3.7" fill="#f24444"/><line x1="158.85" y1="304.7" x2="158.85" y2="311.6" stroke="#737585" stroke-width="0.85"/><rect x="158.25" y="305.5" width="1.2" height="5.1" fill="#f24444"/><line x1="160.50" y1="309.2" x2="160.50" y2="315.6" stroke="#737585" stroke-width="0.85"/><rect x="159.90" y="310.6" width="1.2" height="2.3" fill="#f24444"/><line x1="162.15" y1="311.4" x2="162.15" y2="321.1" stroke="#737585" stroke-width="0.85"/><rect x="161.55" y="313.0" width="1.2" height="5.0" fill="#f24444"/><line x1="163.80" y1="317.7" x2="163.80" y2="324.6" stroke="#737585" stroke-width="0.85"/><rect x="163.20" y="318.0" width="1.2" height="5.6" fill="#f24444"/><line x1="165.45" y1="322.5" x2="165.45" y2="327.1" stroke="#737585" stroke-width="0.85"/><rect x="164.85" y="323.6" width="1.2" height="2.0" fill="#f24444"/><line x1="167.10" y1="316.5" x2="167.10" y2="327.1" stroke="#737585" stroke-width="0.85"/><rect x="166.50" y="316.8" width="1.2" height="8.9" fill="#2a2af2"/><line x1="168.75" y1="313.5" x2="168.75" y2="317.3" stroke="#737585" stroke-width="0.85"/><rect x="168.15" y="313.6" width="1.2" height="3.1" fill="#2a2af2"/><line x1="170.40" y1="309.3" x2="170.40" y2="315.5" stroke="#737585" stroke-width="0.85"/><rect x="169.80" y="310.0" width="1.2" height="3.6" fill="#2a2af2"/><line x1="172.05" y1="307.4" x2="172.05" y2="310.9" stroke="#737585" stroke-width="0.85"/><rect x="171.45" y="307.5" width="1.2" height="2.5" fill="#2a2af2"/><line x1="173.70" y1="300.9" x2="173.70" y2="308.7" stroke="#737585" stroke-width="0.85"/><rect x="173.10" y="302.4" width="1.2" height="5.2" fill="#2a2af2"/><line x1="175.35" y1="296.4" x2="175.35" y2="303.6" stroke="#737585" stroke-width="0.85"/><rect x="174.75" y="298.2" width="1.2" height="4.2" fill="#2a2af2"/><line x1="177.00" y1="298.1" x2="177.00" y2="302.6" stroke="#737585" stroke-width="0.85"/><rect x="176.40" y="298.2" width="1.2" height="3.3" fill="#f24444"/><line x1="178.65" y1="294.9" x2="178.65" y2="302.3" stroke="#737585" stroke-width="0.85"/><rect x="178.05" y="296.1" width="1.2" height="5.4" fill="#2a2af2"/><line x1="180.30" y1="295.4" x2="180.30" y2="298.8" stroke="#737585" stroke-width="0.85"/><rect x="179.70" y="296.1" width="1.2" height="2.2" fill="#f24444"/><line x1="181.95" y1="290.6" x2="181.95" y2="298.5" stroke="#737585" stroke-width="0.85"/><rect x="181.35" y="292.0" width="1.2" height="6.2" fill="#2a2af2"/><line x1="183.60" y1="290.6" x2="183.60" y2="294.5" stroke="#737585" stroke-width="0.85"/><rect x="183.00" y="292.0" width="1.2" height="1.5" fill="#f24444"/><line x1="185.25" y1="293.3" x2="185.25" y2="296.6" stroke="#737585" stroke-width="0.85"/><rect x="184.65" y="293.6" width="1.2" height="0.8" fill="#2a2af2"/><line x1="186.90" y1="291.2" x2="186.90" y2="294.5" stroke="#737585" stroke-width="0.85"/><rect x="186.30" y="292.4" width="1.2" height="1.1" fill="#2a2af2"/><line x1="188.55" y1="287.0" x2="188.55" y2="294.2" stroke="#737585" stroke-width="0.85"/><rect x="187.95" y="288.3" width="1.2" height="4.2" fill="#2a2af2"/><line x1="190.20" y1="285.6" x2="190.20" y2="288.7" stroke="#737585" stroke-width="0.85"/><rect x="189.60" y="286.4" width="1.2" height="1.9" fill="#2a2af2"/><line x1="191.85" y1="285.9" x2="191.85" y2="289.6" stroke="#737585" stroke-width="0.85"/><rect x="191.25" y="286.4" width="1.2" height="2.1" fill="#f24444"/><line x1="193.50" y1="282.1" x2="193.50" y2="290.6" stroke="#737585" stroke-width="0.85"/><rect x="192.90" y="283.2" width="1.2" height="5.3" fill="#2a2af2"/><line x1="195.15" y1="280.0" x2="195.15" y2="285.3" stroke="#737585" stroke-width="0.85"/><rect x="194.55" y="281.7" width="1.2" height="1.5" fill="#2a2af2"/><line x1="196.80" y1="278.8" x2="196.80" y2="283.1" stroke="#737585" stroke-width="0.85"/><rect x="196.20" y="279.7" width="1.2" height="2.0" fill="#2a2af2"/><line x1="198.45" y1="274.3" x2="198.45" y2="283.6" stroke="#737585" stroke-width="0.85"/><rect x="197.85" y="278.0" width="1.2" height="1.7" fill="#2a2af2"/><line x1="200.10" y1="276.0" x2="200.10" y2="284.8" stroke="#737585" stroke-width="0.85"/><rect x="199.50" y="278.0" width="1.2" height="5.0" fill="#f24444"/><line x1="201.75" y1="279.6" x2="201.75" y2="283.5" stroke="#737585" stroke-width="0.85"/><rect x="201.15" y="281.3" width="1.2" height="1.7" fill="#2a2af2"/><line x1="203.40" y1="279.5" x2="203.40" y2="282.7" stroke="#737585" stroke-width="0.85"/><rect x="202.80" y="281.3" width="1.2" height="0.8" fill="#f24444"/><line x1="205.05" y1="270.8" x2="205.05" y2="282.5" stroke="#737585" stroke-width="0.85"/><rect x="204.45" y="272.4" width="1.2" height="9.0" fill="#2a2af2"/><line x1="206.70" y1="266.3" x2="206.70" y2="274.4" stroke="#737585" stroke-width="0.85"/><rect x="206.10" y="267.9" width="1.2" height="4.5" fill="#2a2af2"/><line x1="208.35" y1="263.9" x2="208.35" y2="270.0" stroke="#737585" stroke-width="0.85"/><rect x="207.75" y="266.4" width="1.2" height="1.5" fill="#2a2af2"/><line x1="210.00" y1="263.3" x2="210.00" y2="267.7" stroke="#737585" stroke-width="0.85"/><rect x="209.40" y="265.1" width="1.2" height="1.3" fill="#2a2af2"/><line x1="211.65" y1="261.7" x2="211.65" y2="267.3" stroke="#737585" stroke-width="0.85"/><rect x="211.05" y="262.9" width="1.2" height="2.1" fill="#2a2af2"/><line x1="213.30" y1="261.7" x2="213.30" y2="266.7" stroke="#737585" stroke-width="0.85"/><rect x="212.70" y="262.9" width="1.2" height="2.4" fill="#f24444"/><line x1="214.95" y1="262.9" x2="214.95" y2="272.3" stroke="#737585" stroke-width="0.85"/><rect x="214.35" y="265.4" width="1.2" height="6.3" fill="#f24444"/><line x1="216.60" y1="265.3" x2="216.60" y2="276.0" stroke="#737585" stroke-width="0.85"/><rect x="216.00" y="266.7" width="1.2" height="5.0" fill="#2a2af2"/><line x1="218.25" y1="261.3" x2="218.25" y2="269.9" stroke="#737585" stroke-width="0.85"/><rect x="217.65" y="263.9" width="1.2" height="2.8" fill="#2a2af2"/><line x1="219.90" y1="259.9" x2="219.90" y2="265.8" stroke="#737585" stroke-width="0.85"/><rect x="219.30" y="261.4" width="1.2" height="2.5" fill="#2a2af2"/><line x1="221.55" y1="253.3" x2="221.55" y2="262.1" stroke="#737585" stroke-width="0.85"/><rect x="220.95" y="256.1" width="1.2" height="5.4" fill="#2a2af2"/><line x1="223.20" y1="254.0" x2="223.20" y2="259.0" stroke="#737585" stroke-width="0.85"/><rect x="222.60" y="255.8" width="1.2" height="0.8" fill="#2a2af2"/><line x1="224.85" y1="248.9" x2="224.85" y2="257.1" stroke="#737585" stroke-width="0.85"/><rect x="224.25" y="249.0" width="1.2" height="6.7" fill="#2a2af2"/><line x1="226.50" y1="238.7" x2="226.50" y2="249.8" stroke="#737585" stroke-width="0.85"/><rect x="225.90" y="239.6" width="1.2" height="9.5" fill="#2a2af2"/><line x1="228.15" y1="236.3" x2="228.15" y2="242.2" stroke="#737585" stroke-width="0.85"/><rect x="227.55" y="237.1" width="1.2" height="2.5" fill="#2a2af2"/><line x1="229.80" y1="229.7" x2="229.80" y2="239.7" stroke="#737585" stroke-width="0.85"/><rect x="229.20" y="232.3" width="1.2" height="4.8" fill="#2a2af2"/><line x1="231.45" y1="231.5" x2="231.45" y2="248.5" stroke="#737585" stroke-width="0.85"/><rect x="230.85" y="232.3" width="1.2" height="13.2" fill="#f24444"/><line x1="233.10" y1="243.1" x2="233.10" y2="256.7" stroke="#737585" stroke-width="0.85"/><rect x="232.50" y="245.5" width="1.2" height="9.7" fill="#f24444"/><line x1="234.75" y1="252.4" x2="234.75" y2="256.4" stroke="#737585" stroke-width="0.85"/><rect x="234.15" y="254.8" width="1.2" height="0.8" fill="#2a2af2"/><line x1="236.40" y1="252.1" x2="236.40" y2="259.7" stroke="#737585" stroke-width="0.85"/><rect x="235.80" y="254.8" width="1.2" height="3.6" fill="#f24444"/><line x1="238.05" y1="257.7" x2="238.05" y2="261.4" stroke="#737585" stroke-width="0.85"/><rect x="237.45" y="258.4" width="1.2" height="2.1" fill="#f24444"/><line x1="239.70" y1="258.6" x2="239.70" y2="261.6" stroke="#737585" stroke-width="0.85"/><rect x="239.10" y="260.5" width="1.2" height="0.8" fill="#2a2af2"/><line x1="241.35" y1="250.0" x2="241.35" y2="263.1" stroke="#737585" stroke-width="0.85"/><rect x="240.75" y="252.4" width="1.2" height="8.1" fill="#2a2af2"/><line x1="243.00" y1="250.4" x2="243.00" y2="255.0" stroke="#737585" stroke-width="0.85"/><rect x="242.40" y="252.3" width="1.2" height="0.8" fill="#2a2af2"/><line x1="244.65" y1="242.3" x2="244.65" y2="252.9" stroke="#737585" stroke-width="0.85"/><rect x="244.05" y="242.7" width="1.2" height="9.6" fill="#2a2af2"/><line x1="246.30" y1="242.2" x2="246.30" y2="247.8" stroke="#737585" stroke-width="0.85"/><rect x="245.70" y="242.7" width="1.2" height="2.3" fill="#f24444"/><line x1="247.95" y1="243.2" x2="247.95" y2="255.7" stroke="#737585" stroke-width="0.85"/><rect x="247.35" y="245.0" width="1.2" height="8.2" fill="#f24444"/><line x1="249.60" y1="250.8" x2="249.60" y2="257.4" stroke="#737585" stroke-width="0.85"/><rect x="249.00" y="253.3" width="1.2" height="3.4" fill="#f24444"/><line x1="251.25" y1="255.4" x2="251.25" y2="261.9" stroke="#737585" stroke-width="0.85"/><rect x="250.65" y="256.7" width="1.2" height="2.6" fill="#f24444"/><line x1="252.90" y1="252.7" x2="252.90" y2="262.4" stroke="#737585" stroke-width="0.85"/><rect x="252.30" y="253.2" width="1.2" height="6.2" fill="#2a2af2"/><line x1="254.55" y1="241.8" x2="254.55" y2="254.9" stroke="#737585" stroke-width="0.85"/><rect x="253.95" y="245.7" width="1.2" height="7.5" fill="#2a2af2"/><line x1="256.20" y1="243.9" x2="256.20" y2="249.9" stroke="#737585" stroke-width="0.85"/><rect x="255.60" y="245.7" width="1.2" height="2.2" fill="#f24444"/><line x1="257.85" y1="244.9" x2="257.85" y2="249.9" stroke="#737585" stroke-width="0.85"/><rect x="257.25" y="247.9" width="1.2" height="1.7" fill="#f24444"/><line x1="259.50" y1="245.4" x2="259.50" y2="251.6" stroke="#737585" stroke-width="0.85"/><rect x="258.90" y="247.2" width="1.2" height="2.3" fill="#2a2af2"/><line x1="261.15" y1="243.6" x2="261.15" y2="256.8" stroke="#737585" stroke-width="0.85"/><rect x="260.55" y="247.2" width="1.2" height="8.0" fill="#f24444"/><line x1="262.80" y1="251.5" x2="262.80" y2="257.9" stroke="#737585" stroke-width="0.85"/><rect x="262.20" y="252.6" width="1.2" height="2.7" fill="#2a2af2"/><line x1="264.45" y1="244.8" x2="264.45" y2="253.3" stroke="#737585" stroke-width="0.85"/><rect x="263.85" y="247.2" width="1.2" height="5.4" fill="#2a2af2"/><line x1="266.10" y1="243.4" x2="266.10" y2="248.2" stroke="#737585" stroke-width="0.85"/><rect x="265.50" y="246.0" width="1.2" height="1.2" fill="#2a2af2"/><line x1="267.75" y1="245.0" x2="267.75" y2="247.6" stroke="#737585" stroke-width="0.85"/><rect x="267.15" y="245.9" width="1.2" height="0.8" fill="#2a2af2"/><line x1="269.40" y1="244.8" x2="269.40" y2="249.9" stroke="#737585" stroke-width="0.85"/><rect x="268.80" y="245.9" width="1.2" height="2.9" fill="#f24444"/><line x1="271.05" y1="243.5" x2="271.05" y2="249.0" stroke="#737585" stroke-width="0.85"/><rect x="270.45" y="246.0" width="1.2" height="2.8" fill="#2a2af2"/><line x1="272.70" y1="242.6" x2="272.70" y2="248.3" stroke="#737585" stroke-width="0.85"/><rect x="272.10" y="242.9" width="1.2" height="3.1" fill="#2a2af2"/><line x1="274.35" y1="240.6" x2="274.35" y2="245.4" stroke="#737585" stroke-width="0.85"/><rect x="273.75" y="242.8" width="1.2" height="0.8" fill="#2a2af2"/><line x1="276.00" y1="240.5" x2="276.00" y2="245.0" stroke="#737585" stroke-width="0.85"/><rect x="275.40" y="242.6" width="1.2" height="0.8" fill="#2a2af2"/><line x1="277.65" y1="235.9" x2="277.65" y2="244.1" stroke="#737585" stroke-width="0.85"/><rect x="277.05" y="239.3" width="1.2" height="3.3" fill="#2a2af2"/><line x1="279.30" y1="236.0" x2="279.30" y2="242.2" stroke="#737585" stroke-width="0.85"/><rect x="278.70" y="238.5" width="1.2" height="0.8" fill="#2a2af2"/><line x1="280.95" y1="236.0" x2="280.95" y2="248.9" stroke="#737585" stroke-width="0.85"/><rect x="280.35" y="238.5" width="1.2" height="8.6" fill="#f24444"/><line x1="282.60" y1="244.8" x2="282.60" y2="248.5" stroke="#737585" stroke-width="0.85"/><rect x="282.00" y="245.8" width="1.2" height="1.3" fill="#2a2af2"/><line x1="284.25" y1="233.8" x2="284.25" y2="248.4" stroke="#737585" stroke-width="0.85"/><rect x="283.65" y="235.6" width="1.2" height="10.2" fill="#2a2af2"/><line x1="285.90" y1="234.1" x2="285.90" y2="237.4" stroke="#737585" stroke-width="0.85"/><rect x="285.30" y="235.6" width="1.2" height="1.7" fill="#f24444"/><line x1="287.55" y1="230.2" x2="287.55" y2="238.9" stroke="#737585" stroke-width="0.85"/><rect x="286.95" y="235.7" width="1.2" height="1.6" fill="#2a2af2"/><line x1="289.20" y1="234.3" x2="289.20" y2="238.0" stroke="#737585" stroke-width="0.85"/><rect x="288.60" y="234.9" width="1.2" height="0.8" fill="#2a2af2"/><line x1="290.85" y1="232.3" x2="290.85" y2="244.0" stroke="#737585" stroke-width="0.85"/><rect x="290.25" y="234.9" width="1.2" height="6.3" fill="#f24444"/><line x1="292.50" y1="230.6" x2="292.50" y2="244.2" stroke="#737585" stroke-width="0.85"/><rect x="291.90" y="233.1" width="1.2" height="8.1" fill="#2a2af2"/><line x1="294.15" y1="230.6" x2="294.15" y2="235.8" stroke="#737585" stroke-width="0.85"/><rect x="293.55" y="233.1" width="1.2" height="2.3" fill="#f24444"/><line x1="295.80" y1="231.9" x2="295.80" y2="236.3" stroke="#737585" stroke-width="0.85"/><rect x="295.20" y="235.0" width="1.2" height="0.8" fill="#2a2af2"/><line x1="297.45" y1="230.5" x2="297.45" y2="237.2" stroke="#737585" stroke-width="0.85"/><rect x="296.85" y="232.2" width="1.2" height="2.9" fill="#2a2af2"/><line x1="299.10" y1="230.0" x2="299.10" y2="243.7" stroke="#737585" stroke-width="0.85"/><rect x="298.50" y="232.2" width="1.2" height="8.7" fill="#f24444"/><line x1="300.75" y1="239.4" x2="300.75" y2="246.5" stroke="#737585" stroke-width="0.85"/><rect x="300.15" y="240.9" width="1.2" height="3.4" fill="#f24444"/><line x1="302.40" y1="241.4" x2="302.40" y2="246.3" stroke="#737585" stroke-width="0.85"/><rect x="301.80" y="243.5" width="1.2" height="0.8" fill="#2a2af2"/><line x1="304.05" y1="240.5" x2="304.05" y2="248.4" stroke="#737585" stroke-width="0.85"/><rect x="303.45" y="243.5" width="1.2" height="2.4" fill="#f24444"/><line x1="305.70" y1="235.5" x2="305.70" y2="248.2" stroke="#737585" stroke-width="0.85"/><rect x="305.10" y="238.6" width="1.2" height="7.3" fill="#2a2af2"/><line x1="307.35" y1="235.5" x2="307.35" y2="243.0" stroke="#737585" stroke-width="0.85"/><rect x="306.75" y="238.6" width="1.2" height="1.8" fill="#f24444"/><line x1="309.00" y1="236.6" x2="309.00" y2="241.6" stroke="#737585" stroke-width="0.85"/><rect x="308.40" y="239.5" width="1.2" height="0.9" fill="#2a2af2"/><line x1="310.65" y1="236.9" x2="310.65" y2="246.9" stroke="#737585" stroke-width="0.85"/><rect x="310.05" y="239.5" width="1.2" height="5.1" fill="#f24444"/><line x1="312.30" y1="241.0" x2="312.30" y2="249.8" stroke="#737585" stroke-width="0.85"/><rect x="311.70" y="243.7" width="1.2" height="0.9" fill="#2a2af2"/><line x1="313.95" y1="237.4" x2="313.95" y2="244.6" stroke="#737585" stroke-width="0.85"/><rect x="313.35" y="239.3" width="1.2" height="4.3" fill="#2a2af2"/><line x1="315.60" y1="228.0" x2="315.60" y2="242.6" stroke="#737585" stroke-width="0.85"/><rect x="315.00" y="231.2" width="1.2" height="8.2" fill="#2a2af2"/><line x1="317.25" y1="222.4" x2="317.25" y2="234.4" stroke="#737585" stroke-width="0.85"/><rect x="316.65" y="225.0" width="1.2" height="6.2" fill="#2a2af2"/><line x1="318.90" y1="223.3" x2="318.90" y2="228.2" stroke="#737585" stroke-width="0.85"/><rect x="318.30" y="225.0" width="1.2" height="2.5" fill="#f24444"/><line x1="320.55" y1="225.8" x2="320.55" y2="229.3" stroke="#737585" stroke-width="0.85"/><rect x="319.95" y="227.4" width="1.2" height="1.5" fill="#f24444"/><line x1="322.20" y1="221.3" x2="322.20" y2="232.1" stroke="#737585" stroke-width="0.85"/><rect x="321.60" y="223.4" width="1.2" height="5.6" fill="#2a2af2"/><line x1="323.85" y1="221.3" x2="323.85" y2="224.7" stroke="#737585" stroke-width="0.85"/><rect x="323.25" y="223.4" width="1.2" height="0.8" fill="#f24444"/><line x1="325.50" y1="222.6" x2="325.50" y2="231.7" stroke="#737585" stroke-width="0.85"/><rect x="324.90" y="224.0" width="1.2" height="5.8" fill="#f24444"/><line x1="327.15" y1="226.1" x2="327.15" y2="233.1" stroke="#737585" stroke-width="0.85"/><rect x="326.55" y="228.5" width="1.2" height="1.3" fill="#2a2af2"/><line x1="328.80" y1="227.9" x2="328.80" y2="237.0" stroke="#737585" stroke-width="0.85"/><rect x="328.20" y="228.5" width="1.2" height="6.5" fill="#f24444"/><line x1="330.45" y1="229.8" x2="330.45" y2="238.3" stroke="#737585" stroke-width="0.85"/><rect x="329.85" y="230.0" width="1.2" height="5.0" fill="#2a2af2"/><line x1="332.10" y1="229.1" x2="332.10" y2="234.6" stroke="#737585" stroke-width="0.85"/><rect x="331.50" y="230.0" width="1.2" height="1.9" fill="#f24444"/><line x1="333.75" y1="227.8" x2="333.75" y2="236.3" stroke="#737585" stroke-width="0.85"/><rect x="333.15" y="231.9" width="1.2" height="1.1" fill="#f24444"/><line x1="335.40" y1="226.0" x2="335.40" y2="233.3" stroke="#737585" stroke-width="0.85"/><rect x="334.80" y="226.4" width="1.2" height="6.7" fill="#2a2af2"/><line x1="337.05" y1="223.1" x2="337.05" y2="232.5" stroke="#737585" stroke-width="0.85"/><rect x="336.45" y="226.4" width="1.2" height="0.9" fill="#f24444"/><line x1="338.70" y1="220.5" x2="338.70" y2="228.3" stroke="#737585" stroke-width="0.85"/><rect x="338.10" y="223.8" width="1.2" height="3.5" fill="#2a2af2"/><line x1="340.35" y1="221.4" x2="340.35" y2="230.9" stroke="#737585" stroke-width="0.85"/><rect x="339.75" y="223.8" width="1.2" height="5.7" fill="#f24444"/><line x1="342.00" y1="226.0" x2="342.00" y2="232.0" stroke="#737585" stroke-width="0.85"/><rect x="341.40" y="229.5" width="1.2" height="0.8" fill="#f24444"/><line x1="343.65" y1="224.1" x2="343.65" y2="235.2" stroke="#737585" stroke-width="0.85"/><rect x="343.05" y="227.3" width="1.2" height="2.3" fill="#2a2af2"/><line x1="345.30" y1="218.5" x2="345.30" y2="227.6" stroke="#737585" stroke-width="0.85"/><rect x="344.70" y="222.1" width="1.2" height="5.3" fill="#2a2af2"/><line x1="346.95" y1="219.4" x2="346.95" y2="223.3" stroke="#737585" stroke-width="0.85"/><rect x="346.35" y="221.9" width="1.2" height="0.8" fill="#2a2af2"/><line x1="348.60" y1="209.6" x2="348.60" y2="223.0" stroke="#737585" stroke-width="0.85"/><rect x="348.00" y="210.9" width="1.2" height="11.0" fill="#2a2af2"/><line x1="350.25" y1="203.0" x2="350.25" y2="211.5" stroke="#737585" stroke-width="0.85"/><rect x="349.65" y="206.5" width="1.2" height="4.4" fill="#2a2af2"/><line x1="351.90" y1="203.5" x2="351.90" y2="210.0" stroke="#737585" stroke-width="0.85"/><rect x="351.30" y="203.7" width="1.2" height="2.8" fill="#2a2af2"/><line x1="353.55" y1="197.3" x2="353.55" y2="209.5" stroke="#737585" stroke-width="0.85"/><rect x="352.95" y="203.7" width="1.2" height="5.1" fill="#f24444"/><line x1="355.20" y1="206.4" x2="355.20" y2="211.1" stroke="#737585" stroke-width="0.85"/><rect x="354.60" y="208.8" width="1.2" height="0.8" fill="#f24444"/><line x1="356.85" y1="199.3" x2="356.85" y2="209.9" stroke="#737585" stroke-width="0.85"/><rect x="356.25" y="204.4" width="1.2" height="4.9" fill="#2a2af2"/><line x1="358.50" y1="203.2" x2="358.50" y2="207.8" stroke="#737585" stroke-width="0.85"/><rect x="357.90" y="203.9" width="1.2" height="0.8" fill="#2a2af2"/><line x1="360.15" y1="201.9" x2="360.15" y2="207.1" stroke="#737585" stroke-width="0.85"/><rect x="359.55" y="203.0" width="1.2" height="0.9" fill="#2a2af2"/><line x1="361.80" y1="198.8" x2="361.80" y2="215.0" stroke="#737585" stroke-width="0.85"/><rect x="361.20" y="203.0" width="1.2" height="5.5" fill="#f24444"/><line x1="363.45" y1="207.6" x2="363.45" y2="213.1" stroke="#737585" stroke-width="0.85"/><rect x="362.85" y="208.5" width="1.2" height="2.7" fill="#f24444"/><line x1="365.10" y1="205.4" x2="365.10" y2="215.0" stroke="#737585" stroke-width="0.85"/><rect x="364.50" y="206.8" width="1.2" height="4.4" fill="#2a2af2"/><line x1="366.75" y1="203.1" x2="366.75" y2="212.7" stroke="#737585" stroke-width="0.85"/><rect x="366.15" y="204.3" width="1.2" height="2.5" fill="#2a2af2"/><line x1="368.40" y1="204.1" x2="368.40" y2="213.0" stroke="#737585" stroke-width="0.85"/><rect x="367.80" y="204.3" width="1.2" height="5.6" fill="#f24444"/><line x1="370.05" y1="194.3" x2="370.05" y2="212.0" stroke="#737585" stroke-width="0.85"/><rect x="369.45" y="197.5" width="1.2" height="12.4" fill="#2a2af2"/><line x1="371.70" y1="196.6" x2="371.70" y2="204.8" stroke="#737585" stroke-width="0.85"/><rect x="371.10" y="197.5" width="1.2" height="4.9" fill="#f24444"/><line x1="373.35" y1="198.0" x2="373.35" y2="204.6" stroke="#737585" stroke-width="0.85"/><rect x="372.75" y="200.9" width="1.2" height="1.6" fill="#2a2af2"/><line x1="375.00" y1="194.2" x2="375.00" y2="201.8" stroke="#737585" stroke-width="0.85"/><rect x="374.40" y="195.4" width="1.2" height="5.5" fill="#2a2af2"/><line x1="376.65" y1="193.0" x2="376.65" y2="203.9" stroke="#737585" stroke-width="0.85"/><rect x="376.05" y="195.4" width="1.2" height="4.8" fill="#f24444"/><line x1="378.30" y1="199.9" x2="378.30" y2="206.5" stroke="#737585" stroke-width="0.85"/><rect x="377.70" y="200.2" width="1.2" height="3.0" fill="#f24444"/><line x1="379.95" y1="201.3" x2="379.95" y2="208.2" stroke="#737585" stroke-width="0.85"/><rect x="379.35" y="203.3" width="1.2" height="4.8" fill="#f24444"/><line x1="381.60" y1="206.9" x2="381.60" y2="212.0" stroke="#737585" stroke-width="0.85"/><rect x="381.00" y="208.0" width="1.2" height="3.2" fill="#f24444"/><line x1="383.25" y1="204.4" x2="383.25" y2="215.6" stroke="#737585" stroke-width="0.85"/><rect x="382.65" y="205.9" width="1.2" height="5.3" fill="#2a2af2"/><line x1="384.90" y1="205.4" x2="384.90" y2="212.9" stroke="#737585" stroke-width="0.85"/><rect x="384.30" y="205.9" width="1.2" height="4.3" fill="#f24444"/><line x1="386.55" y1="200.9" x2="386.55" y2="211.7" stroke="#737585" stroke-width="0.85"/><rect x="385.95" y="206.5" width="1.2" height="3.7" fill="#2a2af2"/><line x1="388.20" y1="204.5" x2="388.20" y2="212.9" stroke="#737585" stroke-width="0.85"/><rect x="387.60" y="206.5" width="1.2" height="4.4" fill="#f24444"/><line x1="389.85" y1="194.5" x2="389.85" y2="211.9" stroke="#737585" stroke-width="0.85"/><rect x="389.25" y="199.9" width="1.2" height="11.0" fill="#2a2af2"/><line x1="391.50" y1="199.7" x2="391.50" y2="205.1" stroke="#737585" stroke-width="0.85"/><rect x="390.90" y="199.9" width="1.2" height="4.8" fill="#f24444"/><line x1="393.15" y1="193.2" x2="393.15" y2="207.0" stroke="#737585" stroke-width="0.85"/><rect x="392.55" y="195.6" width="1.2" height="9.1" fill="#2a2af2"/><line x1="394.80" y1="189.2" x2="394.80" y2="199.8" stroke="#737585" stroke-width="0.85"/><rect x="394.20" y="192.7" width="1.2" height="2.9" fill="#2a2af2"/><line x1="396.45" y1="191.5" x2="396.45" y2="196.5" stroke="#737585" stroke-width="0.85"/><rect x="395.85" y="192.7" width="1.2" height="3.2" fill="#f24444"/><line x1="398.10" y1="192.4" x2="398.10" y2="198.5" stroke="#737585" stroke-width="0.85"/><rect x="397.50" y="195.9" width="1.2" height="2.0" fill="#f24444"/><line x1="399.75" y1="189.7" x2="399.75" y2="201.6" stroke="#737585" stroke-width="0.85"/><rect x="399.15" y="193.0" width="1.2" height="4.8" fill="#2a2af2"/><line x1="401.40" y1="190.8" x2="401.40" y2="198.2" stroke="#737585" stroke-width="0.85"/><rect x="400.80" y="193.0" width="1.2" height="3.5" fill="#f24444"/><line x1="403.05" y1="187.5" x2="403.05" y2="198.0" stroke="#737585" stroke-width="0.85"/><rect x="402.45" y="188.6" width="1.2" height="7.9" fill="#2a2af2"/><line x1="404.70" y1="182.5" x2="404.70" y2="196.7" stroke="#737585" stroke-width="0.85"/><rect x="404.10" y="188.6" width="1.2" height="4.7" fill="#f24444"/><line x1="406.35" y1="189.5" x2="406.35" y2="200.5" stroke="#737585" stroke-width="0.85"/><rect x="405.75" y="193.4" width="1.2" height="6.0" fill="#f24444"/><line x1="408.00" y1="193.8" x2="408.00" y2="199.7" stroke="#737585" stroke-width="0.85"/><rect x="407.40" y="195.9" width="1.2" height="3.4" fill="#2a2af2"/><line x1="409.65" y1="188.6" x2="409.65" y2="199.9" stroke="#737585" stroke-width="0.85"/><rect x="409.05" y="189.2" width="1.2" height="6.7" fill="#2a2af2"/><line x1="411.30" y1="183.3" x2="411.30" y2="195.2" stroke="#737585" stroke-width="0.85"/><rect x="410.70" y="189.2" width="1.2" height="2.3" fill="#f24444"/><line x1="412.95" y1="185.8" x2="412.95" y2="192.7" stroke="#737585" stroke-width="0.85"/><rect x="412.35" y="188.6" width="1.2" height="2.9" fill="#2a2af2"/><line x1="414.60" y1="187.5" x2="414.60" y2="196.0" stroke="#737585" stroke-width="0.85"/><rect x="414.00" y="188.6" width="1.2" height="5.2" fill="#f24444"/><line x1="416.25" y1="187.8" x2="416.25" y2="196.5" stroke="#737585" stroke-width="0.85"/><rect x="415.65" y="189.1" width="1.2" height="4.7" fill="#2a2af2"/><line x1="417.90" y1="187.0" x2="417.90" y2="195.0" stroke="#737585" stroke-width="0.85"/><rect x="417.30" y="189.1" width="1.2" height="4.7" fill="#f24444"/><line x1="419.55" y1="186.9" x2="419.55" y2="194.4" stroke="#737585" stroke-width="0.85"/><rect x="418.95" y="187.5" width="1.2" height="6.3" fill="#2a2af2"/><line x1="421.20" y1="186.4" x2="421.20" y2="190.1" stroke="#737585" stroke-width="0.85"/><rect x="420.60" y="187.5" width="1.2" height="2.2" fill="#f24444"/><line x1="422.85" y1="187.4" x2="422.85" y2="201.8" stroke="#737585" stroke-width="0.85"/><rect x="422.25" y="189.7" width="1.2" height="9.5" fill="#f24444"/><line x1="424.50" y1="197.0" x2="424.50" y2="205.3" stroke="#737585" stroke-width="0.85"/><rect x="423.90" y="199.2" width="1.2" height="3.8" fill="#f24444"/><line x1="426.15" y1="201.5" x2="426.15" y2="204.9" stroke="#737585" stroke-width="0.85"/><rect x="425.55" y="202.4" width="1.2" height="0.8" fill="#2a2af2"/><line x1="427.80" y1="201.1" x2="427.80" y2="212.6" stroke="#737585" stroke-width="0.85"/><rect x="427.20" y="202.4" width="1.2" height="7.0" fill="#f24444"/><line x1="429.45" y1="208.3" x2="429.45" y2="227.3" stroke="#737585" stroke-width="0.85"/><rect x="428.85" y="209.4" width="1.2" height="14.5" fill="#f24444"/><line x1="431.10" y1="211.9" x2="431.10" y2="227.0" stroke="#737585" stroke-width="0.85"/><rect x="430.50" y="214.1" width="1.2" height="9.8" fill="#2a2af2"/><line x1="432.75" y1="209.4" x2="432.75" y2="214.6" stroke="#737585" stroke-width="0.85"/><rect x="432.15" y="212.2" width="1.2" height="1.9" fill="#2a2af2"/><line x1="434.40" y1="211.5" x2="434.40" y2="221.8" stroke="#737585" stroke-width="0.85"/><rect x="433.80" y="212.2" width="1.2" height="8.4" fill="#f24444"/><line x1="436.05" y1="217.5" x2="436.05" y2="227.5" stroke="#737585" stroke-width="0.85"/><rect x="435.45" y="220.5" width="1.2" height="4.1" fill="#f24444"/><line x1="437.70" y1="222.0" x2="437.70" y2="231.4" stroke="#737585" stroke-width="0.85"/><rect x="437.10" y="224.6" width="1.2" height="5.1" fill="#f24444"/><line x1="439.35" y1="229.2" x2="439.35" y2="240.3" stroke="#737585" stroke-width="0.85"/><rect x="438.75" y="229.7" width="1.2" height="5.2" fill="#f24444"/><line x1="441.00" y1="230.2" x2="441.00" y2="236.9" stroke="#737585" stroke-width="0.85"/><rect x="440.40" y="233.4" width="1.2" height="1.6" fill="#2a2af2"/><line x1="442.65" y1="231.4" x2="442.65" y2="239.5" stroke="#737585" stroke-width="0.85"/><rect x="442.05" y="233.4" width="1.2" height="4.7" fill="#f24444"/><line x1="444.30" y1="237.1" x2="444.30" y2="242.4" stroke="#737585" stroke-width="0.85"/><rect x="443.70" y="238.1" width="1.2" height="2.9" fill="#f24444"/><line x1="445.95" y1="238.5" x2="445.95" y2="243.8" stroke="#737585" stroke-width="0.85"/><rect x="445.35" y="241.0" width="1.2" height="0.8" fill="#2a2af2"/><line x1="447.60" y1="239.1" x2="447.60" y2="241.5" stroke="#737585" stroke-width="0.85"/><rect x="447.00" y="240.1" width="1.2" height="0.9" fill="#2a2af2"/><line x1="449.25" y1="226.0" x2="449.25" y2="241.3" stroke="#737585" stroke-width="0.85"/><rect x="448.65" y="229.1" width="1.2" height="11.1" fill="#2a2af2"/><line x1="450.90" y1="227.2" x2="450.90" y2="233.6" stroke="#737585" stroke-width="0.85"/><rect x="450.30" y="229.1" width="1.2" height="3.0" fill="#f24444"/><line x1="452.55" y1="223.9" x2="452.55" y2="235.3" stroke="#737585" stroke-width="0.85"/><rect x="451.95" y="225.7" width="1.2" height="6.4" fill="#2a2af2"/><line x1="454.20" y1="223.8" x2="454.20" y2="228.8" stroke="#737585" stroke-width="0.85"/><rect x="453.60" y="225.7" width="1.2" height="1.2" fill="#f24444"/><line x1="455.85" y1="216.4" x2="455.85" y2="228.3" stroke="#737585" stroke-width="0.85"/><rect x="455.25" y="218.6" width="1.2" height="8.3" fill="#2a2af2"/><line x1="457.50" y1="218.1" x2="457.50" y2="226.0" stroke="#737585" stroke-width="0.85"/><rect x="456.90" y="218.6" width="1.2" height="6.1" fill="#f24444"/><line x1="459.15" y1="221.7" x2="459.15" y2="234.6" stroke="#737585" stroke-width="0.85"/><rect x="458.55" y="224.7" width="1.2" height="6.6" fill="#f24444"/><line x1="460.80" y1="228.0" x2="460.80" y2="238.0" stroke="#737585" stroke-width="0.85"/><rect x="460.20" y="231.3" width="1.2" height="5.5" fill="#f24444"/><line x1="462.45" y1="235.7" x2="462.45" y2="240.6" stroke="#737585" stroke-width="0.85"/><rect x="461.85" y="236.8" width="1.2" height="0.8" fill="#f24444"/><line x1="464.10" y1="234.7" x2="464.10" y2="243.3" stroke="#737585" stroke-width="0.85"/><rect x="463.50" y="237.5" width="1.2" height="3.7" fill="#f24444"/><line x1="465.75" y1="239.8" x2="465.75" y2="254.4" stroke="#737585" stroke-width="0.85"/><rect x="465.15" y="241.1" width="1.2" height="12.7" fill="#f24444"/><line x1="467.40" y1="253.2" x2="467.40" y2="258.3" stroke="#737585" stroke-width="0.85"/><rect x="466.80" y="253.8" width="1.2" height="3.9" fill="#f24444"/><line x1="469.05" y1="254.9" x2="469.05" y2="263.8" stroke="#737585" stroke-width="0.85"/><rect x="468.45" y="257.7" width="1.2" height="2.8" fill="#f24444"/><line x1="470.70" y1="258.5" x2="470.70" y2="264.3" stroke="#737585" stroke-width="0.85"/><rect x="470.10" y="260.5" width="1.2" height="3.7" fill="#f24444"/><line x1="472.35" y1="262.3" x2="472.35" y2="269.8" stroke="#737585" stroke-width="0.85"/><rect x="471.75" y="264.1" width="1.2" height="5.1" fill="#f24444"/><line x1="474.00" y1="267.5" x2="474.00" y2="271.6" stroke="#737585" stroke-width="0.85"/><rect x="473.40" y="269.2" width="1.2" height="0.9" fill="#f24444"/><line x1="475.65" y1="268.8" x2="475.65" y2="272.1" stroke="#737585" stroke-width="0.85"/><rect x="475.05" y="270.1" width="1.2" height="1.5" fill="#f24444"/><line x1="477.30" y1="264.3" x2="477.30" y2="273.9" stroke="#737585" stroke-width="0.85"/><rect x="476.70" y="265.7" width="1.2" height="5.9" fill="#2a2af2"/><line x1="478.95" y1="260.0" x2="478.95" y2="267.9" stroke="#737585" stroke-width="0.85"/><rect x="478.35" y="260.1" width="1.2" height="5.6" fill="#2a2af2"/><line x1="480.60" y1="259.6" x2="480.60" y2="267.0" stroke="#737585" stroke-width="0.85"/><rect x="480.00" y="260.1" width="1.2" height="4.0" fill="#f24444"/><line x1="482.25" y1="262.8" x2="482.25" y2="272.8" stroke="#737585" stroke-width="0.85"/><rect x="481.65" y="264.1" width="1.2" height="5.6" fill="#f24444"/><line x1="483.90" y1="266.4" x2="483.90" y2="280.4" stroke="#737585" stroke-width="0.85"/><rect x="483.30" y="269.7" width="1.2" height="9.1" fill="#f24444"/><line x1="485.55" y1="277.9" x2="485.55" y2="285.5" stroke="#737585" stroke-width="0.85"/><rect x="484.95" y="278.8" width="1.2" height="4.5" fill="#f24444"/><line x1="487.20" y1="277.6" x2="487.20" y2="284.5" stroke="#737585" stroke-width="0.85"/><rect x="486.60" y="280.1" width="1.2" height="3.2" fill="#2a2af2"/><line x1="488.85" y1="273.2" x2="488.85" y2="280.7" stroke="#737585" stroke-width="0.85"/><rect x="488.25" y="275.1" width="1.2" height="5.0" fill="#2a2af2"/><line x1="490.50" y1="270.5" x2="490.50" y2="275.8" stroke="#737585" stroke-width="0.85"/><rect x="489.90" y="272.6" width="1.2" height="2.4" fill="#2a2af2"/><line x1="492.15" y1="265.4" x2="492.15" y2="273.5" stroke="#737585" stroke-width="0.85"/><rect x="491.55" y="269.5" width="1.2" height="3.1" fill="#2a2af2"/><line x1="493.80" y1="268.4" x2="493.80" y2="269.8" stroke="#737585" stroke-width="0.85"/><rect x="493.20" y="269.5" width="1.2" height="0.8" fill="#f24444"/><line x1="495.45" y1="266.9" x2="495.45" y2="270.2" stroke="#737585" stroke-width="0.85"/><rect x="494.85" y="267.7" width="1.2" height="1.9" fill="#2a2af2"/><line x1="497.10" y1="260.6" x2="497.10" y2="268.7" stroke="#737585" stroke-width="0.85"/><rect x="496.50" y="262.4" width="1.2" height="5.3" fill="#2a2af2"/><line x1="498.75" y1="258.6" x2="498.75" y2="264.8" stroke="#737585" stroke-width="0.85"/><rect x="498.15" y="259.4" width="1.2" height="3.0" fill="#2a2af2"/><line x1="500.40" y1="257.1" x2="500.40" y2="263.0" stroke="#737585" stroke-width="0.85"/><rect x="499.80" y="259.4" width="1.2" height="3.1" fill="#f24444"/><line x1="502.05" y1="253.5" x2="502.05" y2="263.2" stroke="#737585" stroke-width="0.85"/><rect x="501.45" y="256.3" width="1.2" height="6.2" fill="#2a2af2"/><line x1="503.70" y1="248.7" x2="503.70" y2="256.7" stroke="#737585" stroke-width="0.85"/><rect x="503.10" y="250.1" width="1.2" height="6.1" fill="#2a2af2"/><line x1="505.35" y1="248.3" x2="505.35" y2="254.1" stroke="#737585" stroke-width="0.85"/><rect x="504.75" y="250.1" width="1.2" height="2.8" fill="#f24444"/><line x1="507.00" y1="243.6" x2="507.00" y2="253.4" stroke="#737585" stroke-width="0.85"/><rect x="506.40" y="246.3" width="1.2" height="6.7" fill="#2a2af2"/><line x1="508.65" y1="241.4" x2="508.65" y2="247.5" stroke="#737585" stroke-width="0.85"/><rect x="508.05" y="243.8" width="1.2" height="2.4" fill="#2a2af2"/><line x1="510.30" y1="242.6" x2="510.30" y2="247.6" stroke="#737585" stroke-width="0.85"/><rect x="509.70" y="243.8" width="1.2" height="3.4" fill="#f24444"/><line x1="511.95" y1="245.3" x2="511.95" y2="251.2" stroke="#737585" stroke-width="0.85"/><rect x="511.35" y="247.3" width="1.2" height="3.5" fill="#f24444"/><line x1="513.60" y1="249.9" x2="513.60" y2="256.5" stroke="#737585" stroke-width="0.85"/><rect x="513.00" y="250.8" width="1.2" height="5.4" fill="#f24444"/><line x1="515.25" y1="254.1" x2="515.25" y2="258.1" stroke="#737585" stroke-width="0.85"/><rect x="514.65" y="256.2" width="1.2" height="1.0" fill="#f24444"/><line x1="516.90" y1="254.7" x2="516.90" y2="266.9" stroke="#737585" stroke-width="0.85"/><rect x="516.30" y="257.2" width="1.2" height="7.3" fill="#f24444"/><line x1="518.55" y1="259.4" x2="518.55" y2="266.4" stroke="#737585" stroke-width="0.85"/><rect x="517.95" y="261.3" width="1.2" height="3.2" fill="#2a2af2"/><line x1="520.20" y1="259.4" x2="520.20" y2="267.5" stroke="#737585" stroke-width="0.85"/><rect x="519.60" y="261.3" width="1.2" height="5.4" fill="#f24444"/><line x1="521.85" y1="266.2" x2="521.85" y2="270.4" stroke="#737585" stroke-width="0.85"/><rect x="521.25" y="266.8" width="1.2" height="3.3" fill="#f24444"/><line x1="523.50" y1="269.8" x2="523.50" y2="273.6" stroke="#737585" stroke-width="0.85"/><rect x="522.90" y="270.0" width="1.2" height="3.4" fill="#f24444"/><line x1="525.15" y1="272.1" x2="525.15" y2="273.6" stroke="#737585" stroke-width="0.85"/><rect x="524.55" y="273.1" width="1.2" height="0.8" fill="#2a2af2"/><line x1="526.80" y1="271.0" x2="526.80" y2="275.7" stroke="#737585" stroke-width="0.85"/><rect x="526.20" y="273.1" width="1.2" height="1.0" fill="#f24444"/><line x1="528.45" y1="272.4" x2="528.45" y2="281.2" stroke="#737585" stroke-width="0.85"/><rect x="527.85" y="274.2" width="1.2" height="4.3" fill="#f24444"/><line x1="530.10" y1="274.8" x2="530.10" y2="280.6" stroke="#737585" stroke-width="0.85"/><rect x="529.50" y="276.0" width="1.2" height="2.4" fill="#2a2af2"/><line x1="531.75" y1="270.2" x2="531.75" y2="276.6" stroke="#737585" stroke-width="0.85"/><rect x="531.15" y="272.3" width="1.2" height="3.8" fill="#2a2af2"/><line x1="533.40" y1="267.3" x2="533.40" y2="273.3" stroke="#737585" stroke-width="0.85"/><rect x="532.80" y="269.2" width="1.2" height="3.1" fill="#2a2af2"/><line x1="535.05" y1="267.8" x2="535.05" y2="271.7" stroke="#737585" stroke-width="0.85"/><rect x="534.45" y="268.1" width="1.2" height="1.1" fill="#2a2af2"/><line x1="536.70" y1="266.2" x2="536.70" y2="278.5" stroke="#737585" stroke-width="0.85"/><rect x="536.10" y="268.1" width="1.2" height="8.2" fill="#f24444"/><line x1="538.35" y1="274.6" x2="538.35" y2="281.0" stroke="#737585" stroke-width="0.85"/><rect x="537.75" y="276.3" width="1.2" height="3.5" fill="#f24444"/><line x1="540.00" y1="278.1" x2="540.00" y2="286.9" stroke="#737585" stroke-width="0.85"/><rect x="539.40" y="279.9" width="1.2" height="6.9" fill="#f24444"/><line x1="541.65" y1="281.5" x2="541.65" y2="289.0" stroke="#737585" stroke-width="0.85"/><rect x="541.05" y="282.9" width="1.2" height="3.8" fill="#2a2af2"/><line x1="543.30" y1="274.3" x2="543.30" y2="283.9" stroke="#737585" stroke-width="0.85"/><rect x="542.70" y="274.6" width="1.2" height="8.3" fill="#2a2af2"/><line x1="544.95" y1="274.1" x2="544.95" y2="276.4" stroke="#737585" stroke-width="0.85"/><rect x="544.35" y="274.5" width="1.2" height="0.8" fill="#2a2af2"/><line x1="546.60" y1="273.2" x2="546.60" y2="276.6" stroke="#737585" stroke-width="0.85"/><rect x="546.00" y="274.5" width="1.2" height="0.9" fill="#f24444"/><line x1="548.25" y1="273.1" x2="548.25" y2="277.0" stroke="#737585" stroke-width="0.85"/><rect x="547.65" y="275.4" width="1.2" height="1.1" fill="#f24444"/><line x1="549.90" y1="275.1" x2="549.90" y2="281.7" stroke="#737585" stroke-width="0.85"/><rect x="549.30" y="276.5" width="1.2" height="3.2" fill="#f24444"/><line x1="551.55" y1="276.1" x2="551.55" y2="281.7" stroke="#737585" stroke-width="0.85"/><rect x="550.95" y="278.5" width="1.2" height="1.2" fill="#2a2af2"/><line x1="553.20" y1="277.3" x2="553.20" y2="278.7" stroke="#737585" stroke-width="0.85"/><rect x="552.60" y="277.9" width="1.2" height="0.8" fill="#2a2af2"/><line x1="554.85" y1="276.7" x2="554.85" y2="283.0" stroke="#737585" stroke-width="0.85"/><rect x="554.25" y="277.9" width="1.2" height="4.8" fill="#f24444"/><line x1="556.50" y1="282.2" x2="556.50" y2="286.5" stroke="#737585" stroke-width="0.85"/><rect x="555.90" y="282.7" width="1.2" height="1.6" fill="#f24444"/><line x1="558.15" y1="281.3" x2="558.15" y2="287.9" stroke="#737585" stroke-width="0.85"/><rect x="557.55" y="284.3" width="1.2" height="1.4" fill="#f24444"/><line x1="559.80" y1="285.1" x2="559.80" y2="292.7" stroke="#737585" stroke-width="0.85"/><rect x="559.20" y="285.6" width="1.2" height="4.0" fill="#f24444"/><line x1="561.45" y1="287.5" x2="561.45" y2="294.6" stroke="#737585" stroke-width="0.85"/><rect x="560.85" y="289.6" width="1.2" height="3.5" fill="#f24444"/><line x1="563.10" y1="288.5" x2="563.10" y2="294.9" stroke="#737585" stroke-width="0.85"/><rect x="562.50" y="288.7" width="1.2" height="4.4" fill="#2a2af2"/><line x1="564.75" y1="284.0" x2="564.75" y2="290.7" stroke="#737585" stroke-width="0.85"/><rect x="564.15" y="285.6" width="1.2" height="3.1" fill="#2a2af2"/><line x1="566.40" y1="283.6" x2="566.40" y2="288.7" stroke="#737585" stroke-width="0.85"/><rect x="565.80" y="285.6" width="1.2" height="1.3" fill="#f24444"/><line x1="568.05" y1="284.0" x2="568.05" y2="287.9" stroke="#737585" stroke-width="0.85"/><rect x="567.45" y="284.8" width="1.2" height="2.1" fill="#2a2af2"/><line x1="569.70" y1="281.1" x2="569.70" y2="285.0" stroke="#737585" stroke-width="0.85"/><rect x="569.10" y="281.8" width="1.2" height="3.1" fill="#2a2af2"/><line x1="571.35" y1="276.0" x2="571.35" y2="284.2" stroke="#737585" stroke-width="0.85"/><rect x="570.75" y="277.8" width="1.2" height="3.9" fill="#2a2af2"/><line x1="573.00" y1="268.7" x2="573.00" y2="278.7" stroke="#737585" stroke-width="0.85"/><rect x="572.40" y="271.0" width="1.2" height="6.9" fill="#2a2af2"/><line x1="574.65" y1="259.7" x2="574.65" y2="274.5" stroke="#737585" stroke-width="0.85"/><rect x="574.05" y="261.0" width="1.2" height="9.9" fill="#2a2af2"/><line x1="576.30" y1="251.1" x2="576.30" y2="261.1" stroke="#737585" stroke-width="0.85"/><rect x="575.70" y="253.3" width="1.2" height="7.8" fill="#2a2af2"/><line x1="577.95" y1="252.0" x2="577.95" y2="262.9" stroke="#737585" stroke-width="0.85"/><rect x="577.35" y="253.3" width="1.2" height="8.7" fill="#f24444"/><line x1="579.60" y1="261.0" x2="579.60" y2="264.9" stroke="#737585" stroke-width="0.85"/><rect x="579.00" y="262.0" width="1.2" height="1.6" fill="#f24444"/><line x1="581.25" y1="263.0" x2="581.25" y2="270.2" stroke="#737585" stroke-width="0.85"/><rect x="580.65" y="263.6" width="1.2" height="5.7" fill="#f24444"/><line x1="582.90" y1="267.6" x2="582.90" y2="269.6" stroke="#737585" stroke-width="0.85"/><rect x="582.30" y="268.2" width="1.2" height="1.1" fill="#2a2af2"/><line x1="584.55" y1="265.8" x2="584.55" y2="277.2" stroke="#737585" stroke-width="0.85"/><rect x="583.95" y="268.2" width="1.2" height="6.7" fill="#f24444"/><line x1="586.20" y1="272.3" x2="586.20" y2="275.1" stroke="#737585" stroke-width="0.85"/><rect x="585.60" y="274.5" width="1.2" height="0.8" fill="#2a2af2"/><line x1="587.85" y1="269.4" x2="587.85" y2="277.0" stroke="#737585" stroke-width="0.85"/><rect x="587.25" y="271.0" width="1.2" height="3.5" fill="#2a2af2"/><line x1="589.50" y1="268.7" x2="589.50" y2="274.4" stroke="#737585" stroke-width="0.85"/><rect x="588.90" y="269.7" width="1.2" height="1.3" fill="#2a2af2"/><line x1="591.15" y1="263.8" x2="591.15" y2="271.5" stroke="#737585" stroke-width="0.85"/><rect x="590.55" y="264.2" width="1.2" height="5.5" fill="#2a2af2"/><line x1="592.80" y1="257.1" x2="592.80" y2="265.8" stroke="#737585" stroke-width="0.85"/><rect x="592.20" y="259.8" width="1.2" height="4.4" fill="#2a2af2"/><line x1="594.45" y1="258.1" x2="594.45" y2="262.2" stroke="#737585" stroke-width="0.85"/><rect x="593.85" y="259.8" width="1.2" height="2.0" fill="#f24444"/><line x1="596.10" y1="252.4" x2="596.10" y2="262.6" stroke="#737585" stroke-width="0.85"/><rect x="595.50" y="254.0" width="1.2" height="7.8" fill="#2a2af2"/><line x1="597.75" y1="250.6" x2="597.75" y2="254.4" stroke="#737585" stroke-width="0.85"/><rect x="597.15" y="252.4" width="1.2" height="1.6" fill="#2a2af2"/><line x1="599.40" y1="248.6" x2="599.40" y2="252.7" stroke="#737585" stroke-width="0.85"/><rect x="598.80" y="249.9" width="1.2" height="2.5" fill="#2a2af2"/><line x1="601.05" y1="247.7" x2="601.05" y2="257.4" stroke="#737585" stroke-width="0.85"/><rect x="600.45" y="249.9" width="1.2" height="2.7" fill="#f24444"/><line x1="602.70" y1="246.5" x2="602.70" y2="253.9" stroke="#737585" stroke-width="0.85"/><rect x="602.10" y="249.0" width="1.2" height="3.6" fill="#2a2af2"/><line x1="604.35" y1="245.4" x2="604.35" y2="252.1" stroke="#737585" stroke-width="0.85"/><rect x="603.75" y="249.0" width="1.2" height="2.6" fill="#f24444"/><line x1="606.00" y1="250.1" x2="606.00" y2="253.4" stroke="#737585" stroke-width="0.85"/><rect x="605.40" y="250.2" width="1.2" height="1.4" fill="#2a2af2"/><line x1="607.65" y1="248.9" x2="607.65" y2="254.6" stroke="#737585" stroke-width="0.85"/><rect x="607.05" y="250.2" width="1.2" height="1.7" fill="#f24444"/><line x1="609.30" y1="247.0" x2="609.30" y2="254.6" stroke="#737585" stroke-width="0.85"/><rect x="608.70" y="249.8" width="1.2" height="2.1" fill="#2a2af2"/><line x1="610.95" y1="243.6" x2="610.95" y2="252.0" stroke="#737585" stroke-width="0.85"/><rect x="610.35" y="246.0" width="1.2" height="3.8" fill="#2a2af2"/><line x1="612.60" y1="238.3" x2="612.60" y2="249.0" stroke="#737585" stroke-width="0.85"/><rect x="612.00" y="242.6" width="1.2" height="3.4" fill="#2a2af2"/><line x1="614.25" y1="234.7" x2="614.25" y2="247.7" stroke="#737585" stroke-width="0.85"/><rect x="613.65" y="236.5" width="1.2" height="6.1" fill="#2a2af2"/><line x1="615.90" y1="233.1" x2="615.90" y2="238.0" stroke="#737585" stroke-width="0.85"/><rect x="615.30" y="233.8" width="1.2" height="2.7" fill="#2a2af2"/><line x1="617.55" y1="229.0" x2="617.55" y2="234.2" stroke="#737585" stroke-width="0.85"/><rect x="616.95" y="229.2" width="1.2" height="4.6" fill="#2a2af2"/><line x1="619.20" y1="228.1" x2="619.20" y2="232.5" stroke="#737585" stroke-width="0.85"/><rect x="618.60" y="229.2" width="1.2" height="0.9" fill="#f24444"/><line x1="620.85" y1="228.2" x2="620.85" y2="234.6" stroke="#737585" stroke-width="0.85"/><rect x="620.25" y="230.1" width="1.2" height="2.1" fill="#f24444"/><line x1="622.50" y1="220.9" x2="622.50" y2="232.8" stroke="#737585" stroke-width="0.85"/><rect x="621.90" y="222.2" width="1.2" height="10.0" fill="#2a2af2"/><line x1="624.15" y1="221.9" x2="624.15" y2="227.4" stroke="#737585" stroke-width="0.85"/><rect x="623.55" y="222.2" width="1.2" height="4.5" fill="#f24444"/><line x1="625.80" y1="221.5" x2="625.80" y2="227.3" stroke="#737585" stroke-width="0.85"/><rect x="625.20" y="223.2" width="1.2" height="3.5" fill="#2a2af2"/><line x1="627.45" y1="221.0" x2="627.45" y2="226.9" stroke="#737585" stroke-width="0.85"/><rect x="626.85" y="223.2" width="1.2" height="3.4" fill="#f24444"/><line x1="629.10" y1="224.4" x2="629.10" y2="227.2" stroke="#737585" stroke-width="0.85"/><rect x="628.50" y="226.6" width="1.2" height="0.8" fill="#f24444"/><line x1="630.75" y1="217.3" x2="630.75" y2="228.4" stroke="#737585" stroke-width="0.85"/><rect x="630.15" y="221.5" width="1.2" height="5.4" fill="#2a2af2"/><line x1="632.40" y1="216.1" x2="632.40" y2="223.3" stroke="#737585" stroke-width="0.85"/><rect x="631.80" y="217.5" width="1.2" height="4.0" fill="#2a2af2"/><line x1="634.05" y1="216.5" x2="634.05" y2="220.1" stroke="#737585" stroke-width="0.85"/><rect x="633.45" y="217.5" width="1.2" height="1.5" fill="#f24444"/><line x1="635.70" y1="213.3" x2="635.70" y2="222.5" stroke="#737585" stroke-width="0.85"/><rect x="635.10" y="217.5" width="1.2" height="1.6" fill="#2a2af2"/><line x1="637.35" y1="214.2" x2="637.35" y2="221.1" stroke="#737585" stroke-width="0.85"/><rect x="636.75" y="217.5" width="1.2" height="0.8" fill="#f24444"/><line x1="639.00" y1="212.0" x2="639.00" y2="221.2" stroke="#737585" stroke-width="0.85"/><rect x="638.40" y="213.1" width="1.2" height="5.2" fill="#2a2af2"/><line x1="640.65" y1="211.9" x2="640.65" y2="216.3" stroke="#737585" stroke-width="0.85"/><rect x="640.05" y="213.1" width="1.2" height="0.8" fill="#f24444"/><line x1="642.30" y1="208.5" x2="642.30" y2="215.6" stroke="#737585" stroke-width="0.85"/><rect x="641.70" y="211.6" width="1.2" height="1.8" fill="#2a2af2"/><line x1="643.95" y1="203.8" x2="643.95" y2="213.5" stroke="#737585" stroke-width="0.85"/><rect x="643.35" y="207.5" width="1.2" height="4.1" fill="#2a2af2"/><line x1="645.60" y1="206.1" x2="645.60" y2="211.0" stroke="#737585" stroke-width="0.85"/><rect x="645.00" y="207.5" width="1.2" height="0.8" fill="#f24444"/><line x1="647.25" y1="203.8" x2="647.25" y2="212.6" stroke="#737585" stroke-width="0.85"/><rect x="646.65" y="207.6" width="1.2" height="3.8" fill="#f24444"/><line x1="648.90" y1="208.7" x2="648.90" y2="215.5" stroke="#737585" stroke-width="0.85"/><rect x="648.30" y="211.4" width="1.2" height="2.0" fill="#f24444"/><line x1="650.55" y1="211.3" x2="650.55" y2="223.4" stroke="#737585" stroke-width="0.85"/><rect x="649.95" y="213.4" width="1.2" height="9.6" fill="#f24444"/><line x1="652.20" y1="221.7" x2="652.20" y2="231.0" stroke="#737585" stroke-width="0.85"/><rect x="651.60" y="223.1" width="1.2" height="5.2" fill="#f24444"/><line x1="653.85" y1="214.9" x2="653.85" y2="231.5" stroke="#737585" stroke-width="0.85"/><rect x="653.25" y="216.7" width="1.2" height="11.5" fill="#2a2af2"/><line x1="655.50" y1="210.3" x2="655.50" y2="217.7" stroke="#737585" stroke-width="0.85"/><rect x="654.90" y="211.0" width="1.2" height="5.7" fill="#2a2af2"/><line x1="657.15" y1="210.1" x2="657.15" y2="214.0" stroke="#737585" stroke-width="0.85"/><rect x="656.55" y="211.0" width="1.2" height="0.8" fill="#f24444"/><line x1="658.80" y1="202.7" x2="658.80" y2="215.3" stroke="#737585" stroke-width="0.85"/><rect x="658.20" y="208.2" width="1.2" height="3.6" fill="#2a2af2"/><line x1="660.45" y1="206.9" x2="660.45" y2="216.4" stroke="#737585" stroke-width="0.85"/><rect x="659.85" y="208.2" width="1.2" height="7.6" fill="#f24444"/><line x1="662.10" y1="213.4" x2="662.10" y2="223.8" stroke="#737585" stroke-width="0.85"/><rect x="661.50" y="215.8" width="1.2" height="4.6" fill="#f24444"/><line x1="663.75" y1="218.0" x2="663.75" y2="223.6" stroke="#737585" stroke-width="0.85"/><rect x="663.15" y="220.4" width="1.2" height="1.7" fill="#f24444"/><line x1="665.40" y1="215.7" x2="665.40" y2="222.3" stroke="#737585" stroke-width="0.85"/><rect x="664.80" y="217.3" width="1.2" height="4.7" fill="#2a2af2"/><line x1="667.05" y1="212.4" x2="667.05" y2="223.6" stroke="#737585" stroke-width="0.85"/><rect x="666.45" y="217.3" width="1.2" height="5.3" fill="#f24444"/><line x1="668.70" y1="219.1" x2="668.70" y2="224.8" stroke="#737585" stroke-width="0.85"/><rect x="668.10" y="222.6" width="1.2" height="1.9" fill="#f24444"/><line x1="670.35" y1="219.3" x2="670.35" y2="225.2" stroke="#737585" stroke-width="0.85"/><rect x="669.75" y="219.7" width="1.2" height="4.9" fill="#2a2af2"/><line x1="672.00" y1="210.7" x2="672.00" y2="221.3" stroke="#737585" stroke-width="0.85"/><rect x="671.40" y="213.6" width="1.2" height="6.0" fill="#2a2af2"/><line x1="673.65" y1="211.3" x2="673.65" y2="222.5" stroke="#737585" stroke-width="0.85"/><rect x="673.05" y="213.6" width="1.2" height="6.7" fill="#f24444"/><line x1="675.30" y1="217.9" x2="675.30" y2="225.6" stroke="#737585" stroke-width="0.85"/><rect x="674.70" y="220.4" width="1.2" height="2.5" fill="#f24444"/><line x1="676.95" y1="219.5" x2="676.95" y2="230.6" stroke="#737585" stroke-width="0.85"/><rect x="676.35" y="222.9" width="1.2" height="6.1" fill="#f24444"/><line x1="678.60" y1="228.4" x2="678.60" y2="232.8" stroke="#737585" stroke-width="0.85"/><rect x="678.00" y="229.0" width="1.2" height="3.7" fill="#f24444"/><line x1="680.25" y1="225.4" x2="680.25" y2="236.2" stroke="#737585" stroke-width="0.85"/><rect x="679.65" y="226.7" width="1.2" height="6.0" fill="#2a2af2"/><line x1="681.90" y1="212.8" x2="681.90" y2="229.3" stroke="#737585" stroke-width="0.85"/><rect x="681.30" y="213.0" width="1.2" height="13.7" fill="#2a2af2"/><line x1="683.55" y1="202.5" x2="683.55" y2="214.5" stroke="#737585" stroke-width="0.85"/><rect x="682.95" y="206.1" width="1.2" height="6.9" fill="#2a2af2"/><line x1="685.20" y1="202.5" x2="685.20" y2="209.9" stroke="#737585" stroke-width="0.85"/><rect x="684.60" y="206.1" width="1.2" height="0.8" fill="#f24444"/><line x1="686.85" y1="204.5" x2="686.85" y2="209.7" stroke="#737585" stroke-width="0.85"/><rect x="686.25" y="206.5" width="1.2" height="0.8" fill="#f24444"/><line x1="688.50" y1="195.3" x2="688.50" y2="213.5" stroke="#737585" stroke-width="0.85"/><rect x="687.90" y="199.2" width="1.2" height="7.9" fill="#2a2af2"/><line x1="690.15" y1="195.1" x2="690.15" y2="199.5" stroke="#737585" stroke-width="0.85"/><rect x="689.55" y="198.5" width="1.2" height="0.8" fill="#2a2af2"/><line x1="691.80" y1="194.9" x2="691.80" y2="209.7" stroke="#737585" stroke-width="0.85"/><rect x="691.20" y="198.5" width="1.2" height="8.7" fill="#f24444"/><line x1="693.45" y1="202.1" x2="693.45" y2="208.2" stroke="#737585" stroke-width="0.85"/><rect x="692.85" y="203.8" width="1.2" height="3.4" fill="#2a2af2"/><line x1="695.10" y1="202.6" x2="695.10" y2="210.5" stroke="#737585" stroke-width="0.85"/><rect x="694.50" y="203.8" width="1.2" height="2.9" fill="#f24444"/><line x1="696.75" y1="196.5" x2="696.75" y2="210.1" stroke="#737585" stroke-width="0.85"/><rect x="696.15" y="199.9" width="1.2" height="6.8" fill="#2a2af2"/>
<path d="M687.5 199.7V203.5M686.2 201.0H687.5M687.5 202.0H688.8" stroke="#6e6ee6" stroke-width="1.2" fill="none" opacity="0.88"/><path d="M689.1 184.3V203.1M687.9 202.0H689.1M689.1 187.2H690.4" stroke="#6e6ee6" stroke-width="1.2" fill="none" opacity="0.88"/><path d="M690.8 185.1V193.8M689.5 187.2H690.8M690.8 192.0H692.1" stroke="#6e6ee6" stroke-width="1.2" fill="none" opacity="0.88"/><path d="M692.4 189.1V199.6M691.1 192.0H692.4M692.4 198.5H693.7" stroke="#6e6ee6" stroke-width="1.2" fill="none" opacity="0.88"/><path d="M694.1 197.0V206.5M692.8 198.5H694.1M694.1 203.9H695.4" stroke="#6e6ee6" stroke-width="1.2" fill="none" opacity="0.88"/><path d="M695.7 202.8V207.9M694.4 203.9H695.7M695.7 205.1H697.0" stroke="#6e6ee6" stroke-width="1.2" fill="none" opacity="0.88"/><path d="M697.4 203.1V205.8M696.1 205.1H697.4M697.4 204.5H698.7" stroke="#6e6ee6" stroke-width="1.2" fill="none" opacity="0.88"/><path d="M699.0 196.3V205.1M697.7 204.5H699.0M699.0 199.5H700.3" stroke="#6e6ee6" stroke-width="1.2" fill="none" opacity="0.88"/><path d="M700.7 198.2V202.0M699.4 199.5H700.7M700.7 199.2H702.0" stroke="#6e6ee6" stroke-width="1.2" fill="none" opacity="0.88"/><path d="M702.3 192.8V201.6M701.0 199.2H702.3M702.3 193.8H703.6" stroke="#6e6ee6" stroke-width="1.2" fill="none" opacity="0.88"/><path d="M704.0 189.6V196.8M702.7 193.8H704.0M704.0 191.1H705.3" stroke="#6e6ee6" stroke-width="1.2" fill="none" opacity="0.88"/><path d="M705.6 187.4V194.2M704.3 191.1H705.6M705.6 190.3H706.9" stroke="#6e6ee6" stroke-width="1.2" fill="none" opacity="0.88"/><path d="M707.3 183.9V193.0M706.0 190.3H707.3M707.3 185.1H708.6" stroke="#6e6ee6" stroke-width="1.2" fill="none" opacity="0.88"/><path d="M708.9 183.3V187.0M707.6 185.1H708.9M708.9 184.0H710.2" stroke="#6e6ee6" stroke-width="1.2" fill="none" opacity="0.88"/><path d="M710.6 179.7V184.9M709.3 184.0H710.6M710.6 181.4H711.9" stroke="#6e6ee6" stroke-width="1.2" fill="none" opacity="0.88"/><path d="M712.2 177.6V182.9M710.9 181.4H712.2M712.2 180.8H713.5" stroke="#6e6ee6" stroke-width="1.2" fill="none" opacity="0.88"/><path d="M713.9 179.9V185.2M712.6 180.8H713.9M713.9 183.4H715.2" stroke="#6e6ee6" stroke-width="1.2" fill="none" opacity="0.88"/><path d="M715.5 178.9V184.4M714.2 183.4H715.5M715.5 180.6H716.8" stroke="#6e6ee6" stroke-width="1.2" fill="none" opacity="0.88"/><path d="M717.2 179.6V184.4M715.9 180.6H717.2M717.2 181.9H718.5" stroke="#6e6ee6" stroke-width="1.2" fill="none" opacity="0.88"/><path d="M718.8 177.6V183.4M717.5 181.9H718.8M718.8 178.5H720.1" stroke="#6e6ee6" stroke-width="1.2" fill="none" opacity="0.88"/><path d="M720.5 172.4V180.0M719.2 178.5H720.5M720.5 175.4H721.8" stroke="#6e6ee6" stroke-width="1.2" fill="none" opacity="0.88"/><path d="M722.1 167.6V178.3M720.8 175.4H722.1M722.1 170.7H723.4" stroke="#6e6ee6" stroke-width="1.2" fill="none" opacity="0.88"/><path d="M723.8 167.0V171.8M722.5 170.7H723.8M723.8 168.3H725.1" stroke="#6e6ee6" stroke-width="1.2" fill="none" opacity="0.88"/><path d="M725.4 161.7V169.0M724.1 168.3H725.4M725.4 162.4H726.7" stroke="#6e6ee6" stroke-width="1.2" fill="none" opacity="0.88"/><path d="M727.1 157.6V164.5M725.8 162.4H727.1M727.1 159.3H728.4" stroke="#6e6ee6" stroke-width="1.2" fill="none" opacity="0.88"/><path d="M728.7 154.3V161.6M727.4 159.3H728.7M728.7 155.0H730.0" stroke="#6e6ee6" stroke-width="1.2" fill="none" opacity="0.88"/><path d="M730.4 149.5V157.0M729.1 155.0H730.4M730.4 151.5H731.7" stroke="#6e6ee6" stroke-width="1.2" fill="none" opacity="0.88"/><path d="M732.0 144.9V154.4M730.7 151.5H732.0M732.0 148.0H733.3" stroke="#6e6ee6" stroke-width="1.2" fill="none" opacity="0.88"/><path d="M733.7 145.6V149.5M732.4 148.0H733.7M733.7 147.2H735.0" stroke="#6e6ee6" stroke-width="1.2" fill="none" opacity="0.88"/><path d="M735.3 142.3V148.9M734.0 147.2H735.3M735.3 145.4H736.6" stroke="#6e6ee6" stroke-width="1.2" fill="none" opacity="0.88"/><path d="M737.0 142.8V146.4M735.7 145.4H737.0M737.0 144.5H738.3" stroke="#6e6ee6" stroke-width="1.2" fill="none" opacity="0.88"/><path d="M738.6 143.9V147.8M737.3 144.5H738.6M738.6 145.7H739.9" stroke="#6e6ee6" stroke-width="1.2" fill="none" opacity="0.88"/><path d="M740.3 142.9V147.8M739.0 145.7H740.3M740.3 144.2H741.6" stroke="#6e6ee6" stroke-width="1.2" fill="none" opacity="0.88"/><path d="M741.9 139.5V145.3M740.6 144.2H741.9M741.9 140.8H743.2" stroke="#6e6ee6" stroke-width="1.2" fill="none" opacity="0.88"/><path d="M743.6 135.2V143.4M742.3 140.8H743.6M743.6 138.0H744.9" stroke="#6e6ee6" stroke-width="1.2" fill="none" opacity="0.88"/><path d="M745.2 136.9V140.4M743.9 138.0H745.2M745.2 137.6H746.5" stroke="#6e6ee6" stroke-width="1.2" fill="none" opacity="0.88"/><path d="M746.9 131.0V139.6M745.6 137.6H746.9M746.9 133.3H748.2" stroke="#6e6ee6" stroke-width="1.2" fill="none" opacity="0.88"/><path d="M748.5 128.3V133.9M747.2 133.3H748.5M748.5 130.8H749.8" stroke="#6e6ee6" stroke-width="1.2" fill="none" opacity="0.88"/><path d="M750.2 128.3V132.8M748.9 130.8H750.2M750.2 129.8H751.5" stroke="#6e6ee6" stroke-width="1.2" fill="none" opacity="0.88"/>
<line x1="0" y1="295.4" x2="901.5" y2="46.0" stroke="#0b0bf0" stroke-width="2"/>
<line x1="0" y1="332.4" x2="901.5" y2="83.0" stroke="#0b0bf0" stroke-width="2"/>
</g>
<text x="835" y="176" font-size="14.5" font-weight="bold" font-style="italic" fill="#5a5d66" text-anchor="middle" textLength="105" lengthAdjust="spacingAndGlyphs">Further Projection</text>
<path d="M21.3 367.2 L25.2 362 Q27 360.2 30.3 361 L30.6 356.6 Q29 356.6 28.8 355.3 Q29.5 353 31.4 353.2 Q33.3 353.6 33.3 356 L33.3 362 Q32.6 365 31.2 369.3 L29.6 369.3 L29 367.8 L27.6 367.8 L27 369.3 L25.2 369.3 L24.2 367.4 Z" fill="none" stroke="#1f1f5c" stroke-width="1.1" stroke-linejoin="round"/>
<line x1="-1.5" y1="379.9" x2="901.5" y2="379.9" stroke="#85858e" stroke-width="1.2" stroke-dasharray="2.7 2.75"/>
<line x1="-1.5" y1="413.4" x2="901.5" y2="413.4" stroke="#a0a5b0" stroke-width="0.9" stroke-dasharray="2.7 2.75"/>
<line x1="-1.5" y1="446.35" x2="901.5" y2="446.35" stroke="#85858e" stroke-width="1.2" stroke-dasharray="2.7 2.75"/>
<polyline points="135.2,398.4 137.1,398.4 137.1,395.3 139.1,395.3 139.1,393.0 141.0,393.0 141.0,393.6 143.0,393.6 143.0,393.6 144.9,393.6 144.9,392.5 146.9,392.5 146.9,392.5 148.8,392.5 148.8,390.5 150.8,390.5 150.8,389.6 152.7,389.6 152.7,388.6 154.7,388.6 154.7,401.8 156.6,401.8 156.6,405.4 158.6,405.4 158.6,407.6 160.5,407.6 160.5,412.4 162.5,412.4 162.5,419.6 164.4,419.6 164.4,417.0 166.4,417.0 166.4,414.6 168.3,414.6 168.3,414.5 170.3,414.5 170.3,410.7 172.2,410.7 172.2,406.9 174.2,406.9 174.2,402.8 176.1,402.8 176.1,401.7 178.1,401.7 178.1,400.1 180.0,400.1 180.0,399.0 182.0,399.0 182.0,399.8 183.9,399.8 183.9,397.9 185.9,397.9 185.9,397.0 187.8,397.0 187.8,396.2 189.8,396.2 189.8,396.1 191.7,396.1 191.7,394.1 193.7,394.1 193.7,393.3 195.6,393.3 195.6,394.2 197.6,394.2 197.6,392.8 199.5,392.8 199.5,392.3 201.5,392.3 201.5,391.8 203.4,391.8 203.4,391.0 205.4,391.0 205.4,388.7 207.3,388.7 207.3,384.7 209.3,384.7 209.3,386.4 211.2,386.4 211.2,390.9 213.2,390.9 213.2,393.1 215.1,393.1 215.1,389.6 217.1,389.6 217.1,387.9 219.0,387.9 219.0,387.1 221.0,387.1 221.0,385.8 222.9,385.8 222.9,384.8 224.9,384.8 224.9,383.3 226.8,383.3 226.8,380.5 228.8,380.5 228.8,383.6 230.7,383.6 230.7,387.2 232.7,387.2 232.7,394.1 234.6,394.1 234.6,396.9 236.6,396.9 236.6,397.6 238.5,397.6 238.5,395.7 240.5,395.7 240.5,393.9 242.4,393.9 242.4,392.7 244.4,392.7 244.4,392.4 246.3,392.4 246.3,393.2 248.3,393.2 248.3,396.4 250.2,396.4 250.2,397.2 252.2,397.2 252.2,399.0 254.1,399.0 254.1,393.6 256.1,393.6 256.1,394.8 258.0,394.8 258.0,396.4 260.0,396.4 260.0,397.8 261.9,397.8 261.9,396.5 263.9,396.5 263.9,396.4 265.8,396.4 265.8,396.7 267.8,396.7 267.8,395.0 269.7,395.0 269.7,395.1 271.7,395.1 271.7,396.3 273.6,396.3 273.6,395.1 275.6,395.1 275.6,395.1 277.5,395.1 277.5,395.7 279.5,395.7 279.5,397.9 281.4,397.9 281.4,397.0 283.4,397.0 283.4,399.1 285.3,399.1 285.3,396.9 287.3,396.9 287.3,393.2 289.2,393.2 289.2,394.5 291.2,394.5 291.2,396.1 293.1,396.1 293.1,396.5 295.1,396.5 295.1,397.0 297.0,397.0 297.0,398.2 299.0,398.2 299.0,401.1 300.9,401.1 300.9,402.8 302.9,402.8 302.9,403.7 304.8,403.7 304.8,402.3 306.8,402.3 306.8,402.2 308.7,402.2 308.7,402.4 310.7,402.4 310.7,402.4 312.6,402.4 312.6,399.4 314.6,399.4 314.6,397.5 316.5,397.5 316.5,396.6 318.5,396.6 318.5,397.6 320.4,397.6 320.4,396.2 322.4,396.2 322.4,398.3 324.3,398.3 324.3,398.2 326.3,398.2 326.3,399.1 328.2,399.1 328.2,401.1 330.2,401.1 330.2,400.0 332.1,400.0 332.1,399.0 334.1,399.0 334.1,400.2 336.0,400.2 336.0,399.0 338.0,399.0 338.0,398.8 339.9,398.8 339.9,397.7 341.9,397.7 341.9,397.6 343.8,397.6 343.8,396.2 345.8,396.2 345.8,393.5 347.7,393.5 347.7,393.9 349.7,393.9 349.7,392.7 351.6,392.7 351.6,391.7 353.6,391.7 353.6,391.7 355.5,391.7 355.5,391.7 357.5,391.7 357.5,392.8 359.4,392.8 359.4,394.6 361.4,394.6 361.4,394.1 363.3,394.1 363.3,394.8 365.3,394.8 365.3,395.4 367.2,395.4 367.2,395.3 369.2,395.3 369.2,393.8 371.1,393.8 371.1,392.8 373.1,392.8 373.1,390.8 375.0,390.8 375.0,390.9 377.0,390.9 377.0,394.1 378.9,394.1 378.9,395.6 380.9,395.6 380.9,397.5 382.8,397.5 382.8,398.9 384.8,398.9 384.8,398.5 386.7,398.5 386.7,397.8 388.7,397.8 388.7,396.5 390.6,396.5 390.6,397.3 392.6,397.3 392.6,395.5 394.5,395.5 394.5,395.6 396.5,395.6 396.5,397.3 398.4,397.3 398.4,396.6 400.4,396.6 400.4,394.3 402.3,394.3 402.3,394.5 404.3,394.5 404.3,394.7 406.2,394.7 406.2,395.4 408.2,395.4 408.2,395.5 410.1,395.5 410.1,397.2 412.1,397.2 412.1,396.6 414.0,396.6 414.0,397.0 416.0,397.0 416.0,397.9 417.9,397.9 417.9,399.2 419.9,399.2 419.9,402.0 421.8,402.0 421.8,402.5 423.8,402.5 423.8,404.9 425.7,404.9 425.7,407.3 427.7,407.3 427.7,411.5 429.6,411.5 429.6,416.1 431.6,416.1 431.6,413.1 433.5,413.1 433.5,412.8 435.5,412.8 435.5,413.9 437.4,413.9 437.4,414.8 439.4,414.8 439.4,417.2 441.3,417.2 441.3,417.5 443.3,417.5 443.3,419.0 445.2,419.0 445.2,420.8 447.2,420.8 447.2,419.6 449.1,419.6 449.1,414.8 451.1,414.8 451.1,413.2 453.0,413.2 453.0,412.1 455.0,412.1 455.0,411.3 456.9,411.3 456.9,412.1 458.9,412.1 458.9,415.2 460.8,415.2 460.8,417.2 462.8,417.2 462.8,420.3 464.7,420.3 464.7,421.9 466.7,421.9 466.7,424.1 468.6,424.1 468.6,426.1 470.6,426.1 470.6,427.7 472.5,427.7 472.5,426.5 474.5,426.5 474.5,426.7 476.4,426.7 476.4,424.5 478.4,424.5 478.4,427.2 480.3,427.2 480.3,428.0 482.3,428.0 482.3,428.5 484.2,428.5 484.2,427.8 486.2,427.8 486.2,427.0 488.1,427.0 488.1,425.4 490.1,425.4 490.1,424.6 492.0,424.6 492.0,423.1 494.0,423.1 494.0,422.0 495.9,422.0 495.9,422.2 497.9,422.2 497.9,419.8 499.8,419.8 499.8,419.3 501.8,419.3 501.8,418.1 503.7,418.1 503.7,416.4 505.7,416.4 505.7,415.0 507.6,415.0 507.6,415.6 509.6,415.6 509.6,415.9 511.5,415.9 511.5,418.4 513.5,418.4 513.5,417.9 515.4,417.9 515.4,419.2 517.4,419.2 517.4,420.1 519.3,420.1 519.3,419.2 521.3,419.2 521.3,421.9 523.2,421.9 523.2,421.0 525.2,421.0 525.2,423.2 527.1,423.2 527.1,422.7 529.1,422.7 529.1,423.6 531.0,423.6 531.0,422.0 533.0,422.0 533.0,421.8 534.9,421.8 534.9,422.8 536.9,422.8 536.9,425.4 538.8,425.4 538.8,426.9 540.8,426.9 540.8,422.9 542.7,422.9 542.7,419.7 544.7,419.7 544.7,421.2 546.6,421.2 546.6,419.6 548.6,419.6 548.6,421.4 550.5,421.4 550.5,420.1 552.5,420.1 552.5,420.6 554.4,420.6 554.4,421.3 556.4,421.3 556.4,423.8 558.3,423.8 558.3,425.2 560.3,425.2 560.3,424.6 562.2,424.6 562.2,424.0 564.2,424.0 564.2,422.0 566.1,422.0 566.1,422.3 568.1,422.3 568.1,420.4 570.0,420.4 570.0,417.7 572.0,417.7 572.0,416.0 573.9,416.0 573.9,413.8 575.9,413.8 575.9,411.1 577.8,411.1 577.8,413.9 579.8,413.9 579.8,413.6 581.7,413.6 581.7,414.4 583.7,414.4 583.7,416.2 585.6,416.2 585.6,416.4 587.6,416.4 587.6,415.5 589.5,415.5 589.5,413.1 591.5,413.1 591.5,413.6 593.4,413.6 593.4,411.5 595.4,411.5 595.4,411.9 597.3,411.9 597.3,409.5 599.3,409.5 599.3,410.8 601.2,410.8 601.2,411.1 603.2,411.1 603.2,409.6 605.1,409.6 605.1,408.7 607.1,408.7 607.1,408.9 609.1,408.9 609.1,408.7 611.0,408.7 611.0,406.9 613.0,406.9 613.0,406.7 614.9,406.7 614.9,404.4 616.9,404.4 616.9,404.0 618.8,404.0 618.8,403.6 620.8,403.6 620.8,402.1 622.7,402.1 622.7,401.9 624.7,401.9 624.7,399.9 626.6,399.9 626.6,401.3 628.6,401.3 628.6,399.4 630.5,399.4 630.5,401.1 632.5,401.1 632.5,400.7 634.4,400.7 634.4,399.9 636.4,399.9 636.4,398.2 638.3,398.2 638.3,397.1 640.3,397.1 640.3,396.9 642.2,396.9 642.2,397.5 644.2,397.5 644.2,397.5 646.1,397.5 646.1,400.1 648.1,400.1 648.1,399.6 650.0,399.6 650.0,401.7 652.0,401.7 652.0,403.9 653.9,403.9 653.9,402.8 655.9,402.8 655.9,401.2 657.8,401.2 657.8,398.7 659.8,398.7 659.8,400.4 661.7,400.4 661.7,402.7 663.7,402.7 663.7,405.9 665.6,405.9 665.6,406.4 667.6,406.4 667.6,405.5 669.5,405.5 669.5,405.8 671.5,405.8 671.5,402.5 673.4,402.5 673.4,403.4 675.4,403.4 675.4,405.6 677.3,405.6 677.3,405.6 679.3,405.6 679.3,406.4 681.2,406.4 681.2,404.1 683.2,404.1 683.2,401.0 685.1,401.0 685.1,400.0 687.1,400.0 687.1,398.6 689.0,398.6 689.0,398.6 691.0,398.6 691.0,400.6 692.9,400.6 692.9,400.1 694.9,400.1 694.9,401.1 696.8,401.1 696.8,399.4" fill="none" stroke="#6a4fc4" stroke-width="1.2"/>
<polyline points="317.5,480.5 352.4,481.0 386.4,484.4 421.0,487.9 455.5,493.0 490.0,498.2 514.2,502.4 541.9,508.6 562.6,512.0 586.8,514.8 604.0,514.5 620.0,512.7 635.6,509.6 667.7,504.3 697.6,495.4" fill="none" stroke="#fbeeb2" stroke-width="1.2"/>
<polygon points="181.3,504.3 181.3,492.7 183.2,492.7 183.2,492.2 185.2,492.2 185.2,489.0 187.1,489.0 187.1,488.4 189.1,488.4 189.1,488.7 191.0,488.7 191.0,489.8 193.0,489.8 193.0,489.4 194.9,489.4 194.9,487.7 196.9,487.7 196.9,488.6 198.8,488.6 198.8,487.8 200.8,487.8 200.8,489.7 202.7,489.7 202.7,488.7 204.7,488.7 204.7,487.1 206.6,487.1 206.6,482.7 208.6,482.7 208.6,482.2 210.5,482.2 210.5,482.4 212.5,482.4 212.5,480.5 214.4,480.5 214.4,479.0 216.4,479.0 216.4,479.5 218.3,479.5 218.3,476.4 220.3,476.4 220.3,476.6 222.2,476.6 222.2,475.4 224.2,475.4 224.2,472.1 226.1,472.1 226.1,469.0 228.1,469.0 228.1,470.4 230.0,470.4 230.0,474.5 232.0,474.5 232.0,473.7 233.9,473.7 233.9,475.9 235.9,475.9 235.9,477.2 237.8,477.2 237.8,476.6 239.8,476.6 239.8,478.1 241.7,478.1 241.7,476.4 243.7,476.4 243.7,474.1 245.6,474.1 245.6,475.9 247.6,475.9 247.6,477.7 249.5,477.7 249.5,478.6 251.5,478.6 251.5,478.2 253.4,478.2 253.4,477.3 255.4,477.3 255.4,478.3 257.3,478.3 257.3,479.8 259.3,479.8 259.3,482.0 261.2,482.0 261.2,480.1 263.2,480.1 263.2,480.4 265.1,480.4 265.1,478.2 267.1,478.2 267.1,481.6 269.0,481.6 269.0,481.1 271.0,481.1 271.0,482.7 272.9,482.7 272.9,482.8 274.9,482.8 274.9,483.7 276.8,483.7 276.8,483.1 278.8,483.1 278.8,485.5 280.7,485.5 280.7,484.8 282.7,484.8 282.7,486.0 284.6,486.0 284.6,483.7 286.6,483.7 286.6,483.0 288.5,483.0 288.5,485.0 290.5,485.0 290.5,483.0 292.4,483.0 292.4,480.8 294.4,480.8 294.4,475.9 296.3,475.9 296.3,476.0 298.3,476.0 298.3,470.9 300.2,470.9 300.2,466.7 302.2,466.7 302.2,475.7 304.1,475.7 304.1,474.3 306.1,474.3 306.1,471.3 308.0,471.3 308.0,476.1 310.0,476.1 310.0,480.7 311.9,480.7 311.9,481.5 313.9,481.5 313.9,478.6 315.8,478.6 315.8,480.7 317.8,480.7 317.8,482.2 319.7,482.2 319.7,483.8 321.7,483.8 321.7,483.5 323.6,483.5 323.6,485.7 325.6,485.7 325.6,485.7 327.5,485.7 327.5,487.4 329.5,487.4 329.5,485.4 331.4,485.4 331.4,488.4 333.4,488.4 333.4,487.4 335.3,487.4 335.3,487.8 337.3,487.8 337.3,487.3 339.2,487.3 339.2,488.1 341.2,488.1 341.2,489.9 343.1,489.9 343.1,490.5 345.1,490.5 345.1,490.1 347.0,490.1 347.0,491.5 349.0,491.5 349.0,489.2 350.9,489.2 350.9,487.6 352.9,487.6 352.9,486.8 354.8,486.8 354.8,488.5 356.8,488.5 356.8,491.8 358.7,491.8 358.7,493.6 360.7,493.6 360.7,495.0 362.6,495.0 362.6,496.2 364.6,496.2 364.6,495.0 366.5,495.0 366.5,493.9 368.5,493.9 368.5,492.3 370.4,492.3 370.4,490.6 372.4,490.6 372.4,489.0 374.3,489.0 374.3,486.4 376.3,486.4 376.3,488.4 378.2,488.4 378.2,491.3 380.2,491.3 380.2,493.5 382.1,493.5 382.1,493.5 384.1,493.5 384.1,494.4 386.0,494.4 386.0,492.5 388.0,492.5 388.0,491.1 389.9,491.1 389.9,492.5 391.9,492.5 391.9,491.5 393.8,491.5 393.8,491.5 395.8,491.5 395.8,489.6 397.7,489.6 397.7,491.3 399.7,491.3 399.7,492.1 401.6,492.1 401.6,492.5 403.6,492.5 403.6,492.6 405.5,492.6 405.5,493.4 407.5,493.4 407.5,493.2 409.4,493.2 409.4,492.2 411.4,492.2 411.4,491.5 413.3,491.5 413.3,492.2 415.3,492.2 415.3,491.9 417.2,491.9 417.2,492.0 419.2,492.0 419.2,490.3 421.1,490.3 421.1,494.4 423.1,494.4 423.1,496.0 425.0,496.0 425.0,499.9 427.0,499.9 427.0,499.0 428.9,499.0 428.9,501.6 430.9,501.6 430.9,501.2 432.8,501.2 432.8,499.9 434.8,499.9 434.8,501.7 436.7,501.7 436.7,500.1 438.7,500.1 438.7,500.3 440.6,500.3 440.6,501.7 442.6,501.7 442.6,501.8 444.5,501.8 444.5,503.2 446.5,503.2 446.5,504.3 448.4,504.3 448.4,503.3 450.4,503.3 450.4,502.9 452.3,502.9 452.3,501.7 454.3,501.7 454.3,502.8 456.2,502.8 456.2,504.2 458.2,504.2 457.7,504.3" fill="#4caf50"/>
<polygon points="456.8,504.3 456.8,504.9 458.8,504.9 458.8,507.6 460.7,507.6 460.7,508.5 462.6,508.5 462.6,508.2 464.6,508.2 464.6,508.2 466.5,508.2 466.5,510.5 468.5,510.5 468.5,511.8 470.4,511.8 470.4,511.3 472.4,511.3 472.4,512.6 474.3,512.6 474.3,513.9 476.3,513.9 476.3,514.4 478.2,514.4 478.2,513.1 480.2,513.1 480.2,515.1 482.1,515.1 482.1,514.6 484.1,514.6 484.1,515.6 486.0,515.6 486.0,518.1 488.0,518.1 488.0,517.1 489.9,517.1 489.9,517.4 491.9,517.4 491.9,516.7 493.8,516.7 493.8,516.2 495.8,516.2 495.8,515.6 497.7,515.6 497.7,515.4 499.7,515.4 499.7,515.5 501.6,515.5 501.6,513.7 503.6,513.7 503.6,511.6 505.5,511.6 505.5,511.5 507.5,511.5 507.5,512.6 509.4,512.6 509.4,514.4 511.4,514.4 511.4,514.4 513.3,514.4 513.3,515.6 515.3,515.6 515.3,516.6 517.2,516.6 517.2,515.3 519.2,515.3 519.2,517.3 521.1,517.3 521.1,516.2 523.1,516.2 523.1,518.7 525.0,518.7 525.0,517.6 527.0,517.6 527.0,518.3 529.0,518.3 529.0,520.6 530.9,520.6 530.9,519.5 532.9,519.5 532.9,519.6 534.8,519.6 534.8,521.8 536.8,521.8 536.8,521.6 538.7,521.6 538.7,522.7 540.7,522.7 540.7,521.2 542.6,521.2 542.6,521.3 544.6,521.3 544.6,522.3 546.5,522.3 546.5,520.9 548.5,520.9 548.5,522.0 550.4,522.0 550.4,520.2 552.4,520.2 552.4,522.3 554.3,522.3 554.3,520.9 556.3,520.9 556.3,522.2 558.2,522.2 558.2,520.6 560.2,520.6 560.2,519.9 562.1,519.9 562.1,520.7 564.1,520.7 564.1,518.3 566.0,518.3 566.0,518.0 568.0,518.0 568.0,515.1 569.9,515.1 569.9,513.9 571.9,513.9 571.9,511.8 573.8,511.8 573.8,511.9 575.8,511.9 575.8,512.3 577.7,512.3 577.7,510.9 579.7,510.9 579.7,510.0 581.6,510.0 581.6,512.2 583.6,512.2 583.6,513.1 585.5,513.1 585.5,513.5 587.5,513.5 587.5,512.9 589.4,512.9 589.4,514.3 591.4,514.3 591.4,512.6 593.3,512.6 593.3,512.8 595.3,512.8 595.3,510.0 597.2,510.0 597.2,509.3 599.2,509.3 599.2,507.8 601.1,507.8 601.1,505.6 603.1,505.6 603.1,504.8 605.0,504.8 605.3,504.3" fill="#f85454"/>
<polygon points="604.8,504.3 604.8,504.3 606.8,504.3 606.8,500.5 608.7,500.5 608.7,497.1 610.7,497.1 610.7,494.8 612.6,494.8 612.6,496.5 614.6,496.5 614.6,491.3 616.5,491.3 616.5,493.4 618.5,493.4 618.5,490.7 620.4,490.7 620.4,488.1 622.4,488.1 622.4,487.4 624.3,487.4 624.3,489.0 626.3,489.0 626.3,489.8 628.2,489.8 628.2,489.3 630.2,489.3 630.2,489.6 632.1,489.6 632.1,486.6 634.1,486.6 634.1,488.1 636.0,488.1 636.0,487.8 638.0,487.8 638.0,493.1 639.9,493.1 639.9,494.5 641.9,494.5 641.9,493.0 643.8,493.0 643.8,495.6 645.8,495.6 645.8,495.1 647.7,495.1 647.7,492.4 649.7,492.4 649.7,493.5 651.6,493.5 651.6,494.7 653.6,494.7 653.6,492.8 655.5,492.8 655.5,489.7 657.5,489.7 657.5,490.3 659.4,490.3 659.4,486.7 661.4,486.7 661.4,486.3 663.3,486.3 663.3,485.5 665.3,485.5 665.3,488.7 667.2,488.7 667.2,488.0 669.2,488.0 669.2,489.5 671.1,489.5 671.1,487.1 673.1,487.1 673.1,483.5 675.0,483.5 675.0,483.6 677.0,483.6 677.0,483.3 678.9,483.3 678.9,485.2 680.9,485.2 680.9,483.8 682.8,483.8 682.8,482.0 684.8,482.0 684.8,482.5 686.7,482.5 686.7,482.2 688.7,482.2 688.7,481.1 690.6,481.1 690.6,478.2 692.6,478.2 692.6,476.4 694.5,476.4 694.5,476.5 696.5,476.5 696.5,476.1 698.4,476.1 698.1,504.3" fill="#4caf50"/>
<polyline points="317.5,480.5 352.4,481.0 386.4,484.4 421.0,487.9 455.5,493.0 490.0,498.2 514.2,502.4 541.9,508.6 562.6,512.0 586.8,514.8 604.0,514.5 620.0,512.7 635.6,509.6 667.7,504.3 697.6,495.4" fill="none" stroke="#fdf3c4" stroke-width="1" opacity="0.45" stroke-dasharray="2 1.5"/>
<line x1="0" y1="504.4" x2="901.5" y2="504.4" stroke="#45a4f2" stroke-width="1.2"/>
<rect x="901.5" y="0" width="30.5" height="550" fill="#fff"/>
<line x1="0" y1="532.4" x2="901.5" y2="532.4" stroke="#55565d" stroke-width="1.25"/>
<line x1="901.5" y1="38" x2="901.5" y2="550" stroke="#505158" stroke-width="1.05"/>
<line x1="901.5" y1="0" x2="901.5" y2="38" stroke="#9a9aa0" stroke-width="1"/>
<line x1="902.5" y1="19.5" x2="932" y2="19.5" stroke="#e6e8ef" stroke-width="1.2"/>
<line x1="902.5" y1="37.5" x2="932" y2="37.5" stroke="#e6e8ef" stroke-width="1.2"/>
<line x1="902.5" y1="370" x2="932" y2="370" stroke="#e6e8ef" stroke-width="1.2"/>
<line x1="902.5" y1="457.8" x2="932" y2="457.8" stroke="#e6e8ef" stroke-width="1.2"/>
<text x="904.8" y="361.85" font-size="7.8" fill="#1f232e" stroke="#1f232e" stroke-width="0.3" font-weight="normal" text-anchor="start" textLength="19.2" lengthAdjust="spacingAndGlyphs">1500.00</text>
<text x="904.8" y="341.8" font-size="7.8" fill="#1f232e" stroke="#1f232e" stroke-width="0.3" font-weight="normal" text-anchor="start" textLength="19.2" lengthAdjust="spacingAndGlyphs">2000.00</text>
<text x="904.8" y="321.75000000000006" font-size="7.8" fill="#1f232e" stroke="#1f232e" stroke-width="0.3" font-weight="normal" text-anchor="start" textLength="19.2" lengthAdjust="spacingAndGlyphs">2500.00</text>
<text x="904.8" y="301.70000000000005" font-size="7.8" fill="#1f232e" stroke="#1f232e" stroke-width="0.3" font-weight="normal" text-anchor="start" textLength="19.2" lengthAdjust="spacingAndGlyphs">3000.00</text>
<text x="904.8" y="281.65000000000003" font-size="7.8" fill="#1f232e" stroke="#1f232e" stroke-width="0.3" font-weight="normal" text-anchor="start" textLength="19.2" lengthAdjust="spacingAndGlyphs">3500.00</text>
<text x="904.8" y="261.6" font-size="7.8" fill="#1f232e" stroke="#1f232e" stroke-width="0.3" font-weight="normal" text-anchor="start" textLength="19.2" lengthAdjust="spacingAndGlyphs">4000.00</text>
<text x="904.8" y="221.5" font-size="7.8" fill="#1f232e" stroke="#1f232e" stroke-width="0.3" font-weight="normal" text-anchor="start" textLength="19.2" lengthAdjust="spacingAndGlyphs">5000.00</text>
<text x="904.8" y="181.4" font-size="7.8" fill="#1f232e" stroke="#1f232e" stroke-width="0.3" font-weight="normal" text-anchor="start" textLength="19.2" lengthAdjust="spacingAndGlyphs">6000.00</text>
<text x="904.8" y="161.35" font-size="7.8" fill="#1f232e" stroke="#1f232e" stroke-width="0.3" font-weight="normal" text-anchor="start" textLength="19.2" lengthAdjust="spacingAndGlyphs">6500.00</text>
<text x="904.8" y="141.29999999999998" font-size="7.8" fill="#1f232e" stroke="#1f232e" stroke-width="0.3" font-weight="normal" text-anchor="start" textLength="19.2" lengthAdjust="spacingAndGlyphs">7000.00</text>
<text x="904.8" y="121.25" font-size="7.8" fill="#1f232e" stroke="#1f232e" stroke-width="0.3" font-weight="normal" text-anchor="start" textLength="19.2" lengthAdjust="spacingAndGlyphs">7500.00</text>
<text x="904.8" y="101.19999999999999" font-size="7.8" fill="#1f232e" stroke="#1f232e" stroke-width="0.3" font-weight="normal" text-anchor="start" textLength="19.2" lengthAdjust="spacingAndGlyphs">8000.00</text>
<text x="904.8" y="81.14999999999999" font-size="7.8" fill="#1f232e" stroke="#1f232e" stroke-width="0.3" font-weight="normal" text-anchor="start" textLength="19.2" lengthAdjust="spacingAndGlyphs">8500.00</text>
<text x="904.8" y="61.1" font-size="7.8" fill="#1f232e" stroke="#1f232e" stroke-width="0.3" font-weight="normal" text-anchor="start" textLength="19.2" lengthAdjust="spacingAndGlyphs">9000.00</text>
<g clip-path="url(#axm)">
<text x="904.8" y="41.050000000000004" font-size="7.8" fill="#1f232e" stroke="#1f232e" stroke-width="0.3" font-weight="normal" text-anchor="start" textLength="19.2" lengthAdjust="spacingAndGlyphs">9500.00</text>
</g>
<text x="904.8" y="432.4" font-size="7.8" fill="#1f232e" stroke="#1f232e" stroke-width="0.3" font-weight="normal" text-anchor="start" textLength="15.5" lengthAdjust="spacingAndGlyphs">40.00</text>
<text x="904.8" y="465.3" font-size="7.8" fill="#1f232e" stroke="#1f232e" stroke-width="0.3" font-weight="normal" text-anchor="start" textLength="16" lengthAdjust="spacingAndGlyphs">100.00</text>
<text x="904.8" y="485.9" font-size="7.8" fill="#1f232e" stroke="#1f232e" stroke-width="0.3" font-weight="normal" text-anchor="start" textLength="13" lengthAdjust="spacingAndGlyphs">50.00</text>
<text x="904.8" y="507" font-size="7.8" fill="#1f232e" stroke="#1f232e" stroke-width="0.3" font-weight="normal" text-anchor="start" textLength="10.5" lengthAdjust="spacingAndGlyphs">0.00</text>
<text x="904.8" y="527.5" font-size="7.8" fill="#1f232e" stroke="#1f232e" stroke-width="0.3" font-weight="normal" text-anchor="start" textLength="16" lengthAdjust="spacingAndGlyphs">-50.00</text>
<rect x="901.5" y="0" width="27.5" height="9.6" fill="#9598a1"/>
<text x="904" y="6.8" font-size="7" fill="#3a3d48" stroke="#3a3d48" stroke-width="0.22" font-weight="bold" text-anchor="start" textLength="23.5" lengthAdjust="spacingAndGlyphs">984.923K</text>
<rect x="901.5" y="9.6" width="28" height="9" fill="#2140a8"/>
<text x="904" y="16.8" font-size="7" fill="#fff" stroke="#fff" stroke-width="0.22" font-weight="bold" text-anchor="start" textLength="23.5" lengthAdjust="spacingAndGlyphs">258.601K</text>
<rect x="901.5" y="20" width="19.5" height="10" rx="1" fill="#3b3b62"/>
<text x="905" y="27.8" font-size="7" fill="#fff" stroke="#fff" stroke-width="0.22" font-weight="bold" text-anchor="start" textLength="13" lengthAdjust="spacingAndGlyphs">68.46</text>
<rect x="901.5" y="30" width="16.5" height="7.2" fill="#f7525f"/>
<text x="905" y="36.6" font-size="7" fill="#a00010" stroke="#a00010" stroke-width="0.22" font-weight="bold" text-anchor="start" textLength="10.5" lengthAdjust="spacingAndGlyphs">0.06</text>
<rect x="880.3" y="196.3" width="20.4" height="10.5" rx="0.8" fill="#1414f5"/>
<text x="883" y="204.2" font-size="7" fill="#fff" stroke="#fff" stroke-width="0.22" font-weight="bold" text-anchor="start" textLength="15.2" lengthAdjust="spacingAndGlyphs">FAANG</text>
<rect x="901.5" y="196.3" width="25.2" height="19.2" rx="1" fill="#1414f5"/>
<text x="905" y="204.7" font-size="7.6" fill="#fff" stroke="#fff" stroke-width="0.22" font-weight="bold" text-anchor="start" textLength="19" lengthAdjust="spacingAndGlyphs">5437.42</text>
<text x="905.5" y="213.5" font-size="7.6" fill="#fff" stroke="#fff" stroke-width="0.3" font-weight="normal" text-anchor="start" textLength="15.5" lengthAdjust="spacingAndGlyphs">1d 22h</text>
<rect x="901.5" y="230.8" width="25.2" height="10.6" rx="1" fill="#1c3399"/>
<text x="905" y="239" font-size="7.6" fill="#fff" stroke="#fff" stroke-width="0.22" font-weight="bold" text-anchor="start" textLength="19" lengthAdjust="spacingAndGlyphs">4571.50</text>
<rect x="901.5" y="395.4" width="19.3" height="9.6" rx="1" fill="#7e57c2"/>
<text x="904.8" y="402.8" font-size="7" fill="#fff" stroke="#fff" stroke-width="0.22" font-weight="bold" text-anchor="start" textLength="13.2" lengthAdjust="spacingAndGlyphs">57.87</text>
<rect x="901.5" y="468.2" width="19.4" height="10.9" rx="1" fill="#4caf50"/>
<text x="904.8" y="476.4" font-size="7" fill="#fff" stroke="#fff" stroke-width="0.22" font-weight="bold" text-anchor="start" textLength="13.2" lengthAdjust="spacingAndGlyphs">74.36</text>
<rect x="901.5" y="491.8" width="19.4" height="11.3" rx="1" fill="#fff3b0"/>
<text x="904.8" y="500" font-size="7" fill="#e53935" stroke="#e53935" stroke-width="0.22" font-weight="bold" text-anchor="start" textLength="13.2" lengthAdjust="spacingAndGlyphs">18.34</text>
<text x="53.2" y="543.2" font-size="8.2" fill="#2a2e39" font-style="normal" stroke="#2a2e39" stroke-width="0.25" text-anchor="middle" textLength="9.3" lengthAdjust="spacingAndGlyphs">Jun</text>
<text x="90.8" y="543.2" font-size="8.2" fill="#2a2e39" font-style="normal" stroke="#2a2e39" stroke-width="0.25" text-anchor="middle" textLength="6.7" lengthAdjust="spacingAndGlyphs">10</text>
<text x="134.7" y="543.2" font-size="8.2" fill="#2a2e39" font-style="normal" stroke="#2a2e39" stroke-width="0.25" text-anchor="middle" textLength="12.8" lengthAdjust="spacingAndGlyphs">2020</text>
<text x="182.3" y="543.2" font-size="8.2" fill="#62656f" font-style="italic" stroke="#62656f" stroke-width="0.25" text-anchor="middle" textLength="10.3" lengthAdjust="spacingAndGlyphs">May</text>
<text x="229.5" y="543.2" font-size="8.2" fill="#2a2e39" font-style="normal" stroke="#2a2e39" stroke-width="0.25" text-anchor="middle" textLength="9.3" lengthAdjust="spacingAndGlyphs">Sep</text>
<text x="278.8" y="543.2" font-size="8.2" fill="#2a2e39" font-style="normal" stroke="#2a2e39" stroke-width="0.25" text-anchor="middle" textLength="12.8" lengthAdjust="spacingAndGlyphs">2021</text>
<text x="326.6" y="543.2" font-size="8.2" fill="#62656f" font-style="italic" stroke="#62656f" stroke-width="0.25" text-anchor="middle" textLength="10.3" lengthAdjust="spacingAndGlyphs">May</text>
<text x="373.9" y="543.2" font-size="8.2" fill="#2a2e39" font-style="normal" stroke="#2a2e39" stroke-width="0.25" text-anchor="middle" textLength="9.3" lengthAdjust="spacingAndGlyphs">Sep</text>
<text x="421.4" y="543.2" font-size="8.2" fill="#2a2e39" font-style="normal" stroke="#2a2e39" stroke-width="0.25" text-anchor="middle" textLength="12.8" lengthAdjust="spacingAndGlyphs">2022</text>
<text x="468.7" y="543.2" font-size="8.2" fill="#62656f" font-style="italic" stroke="#62656f" stroke-width="0.25" text-anchor="middle" textLength="10.3" lengthAdjust="spacingAndGlyphs">May</text>
<text x="515.6" y="543.2" font-size="8.2" fill="#2a2e39" font-style="normal" stroke="#2a2e39" stroke-width="0.25" text-anchor="middle" textLength="9.3" lengthAdjust="spacingAndGlyphs">Sep</text>
<text x="563.5" y="543.2" font-size="8.2" fill="#2a2e39" font-style="normal" stroke="#2a2e39" stroke-width="0.25" text-anchor="middle" textLength="12.8" lengthAdjust="spacingAndGlyphs">2023</text>
<text x="611" y="543.2" font-size="8.2" fill="#62656f" font-style="italic" stroke="#62656f" stroke-width="0.25" text-anchor="middle" textLength="10.3" lengthAdjust="spacingAndGlyphs">May</text>
<text x="658.2" y="543.2" font-size="8.2" fill="#2a2e39" font-style="normal" stroke="#2a2e39" stroke-width="0.25" text-anchor="middle" textLength="9.3" lengthAdjust="spacingAndGlyphs">Sep</text>
<text x="705.8" y="543.2" font-size="8.2" fill="#2a2e39" font-style="normal" stroke="#2a2e39" stroke-width="0.25" text-anchor="middle" textLength="12.8" lengthAdjust="spacingAndGlyphs">2024</text>
<text x="753.7" y="543.2" font-size="8.2" fill="#62656f" font-style="italic" stroke="#62656f" stroke-width="0.25" text-anchor="middle" textLength="10.3" lengthAdjust="spacingAndGlyphs">May</text>
<text x="802" y="543.2" font-size="8.2" fill="#2a2e39" font-style="normal" stroke="#2a2e39" stroke-width="0.25" text-anchor="middle" textLength="9.3" lengthAdjust="spacingAndGlyphs">Sep</text>
<text x="849.5" y="543.2" font-size="8.2" fill="#2a2e39" font-style="normal" stroke="#2a2e39" stroke-width="0.25" text-anchor="middle" textLength="12.8" lengthAdjust="spacingAndGlyphs">2025</text>
<text x="892" y="543.2" font-size="8.2" fill="#62656f" font-style="italic" textLength="8.5" lengthAdjust="spacingAndGlyphs">Ma</text>
<text x="4" y="13.9" font-size="8.6" fill="#1f232e" stroke="#1f232e" stroke-width="0.3" font-weight="normal" text-anchor="start" textLength="21.7" lengthAdjust="spacingAndGlyphs">Vol (63)</text>
<text x="4" y="33" font-size="8.6" fill="#1f232e" stroke="#1f232e" stroke-width="0.3" font-weight="normal" text-anchor="start" textLength="83" lengthAdjust="spacingAndGlyphs">YTD % Return (0, 0, 0, 0, 0, 0)</text>
<text x="4" y="51.9" font-size="8.4" fill="#1e222d" stroke="#1e222d" stroke-width="0.22" font-weight="bold" text-anchor="start" textLength="41.7" lengthAdjust="spacingAndGlyphs">FAANG, 3D, FX</text>
<text x="4" y="62.8" font-size="8.6" fill="#1f232e" stroke="#1f232e" stroke-width="0.3" font-weight="normal" text-anchor="start" textLength="84.7" lengthAdjust="spacingAndGlyphs">MA · 1W (52, close, 0, SMA, 1)</text>
<rect x="2" y="377" width="76" height="10" fill="#f1eefb"/>
<text x="4" y="384.8" font-size="8.6" fill="#1f232e" stroke="#1f232e" stroke-width="0.3" font-weight="normal" text-anchor="start" textLength="72" lengthAdjust="spacingAndGlyphs">RSI (55, close, SMA, 14, 2)</text>
<text x="4" y="471.6" font-size="8.6" fill="#1f232e" stroke="#1f232e" stroke-width="0.3" font-weight="normal" text-anchor="start" textLength="101" lengthAdjust="spacingAndGlyphs">Percent change bar chart (4, 84, 84)</text>
</svg></body></html>
